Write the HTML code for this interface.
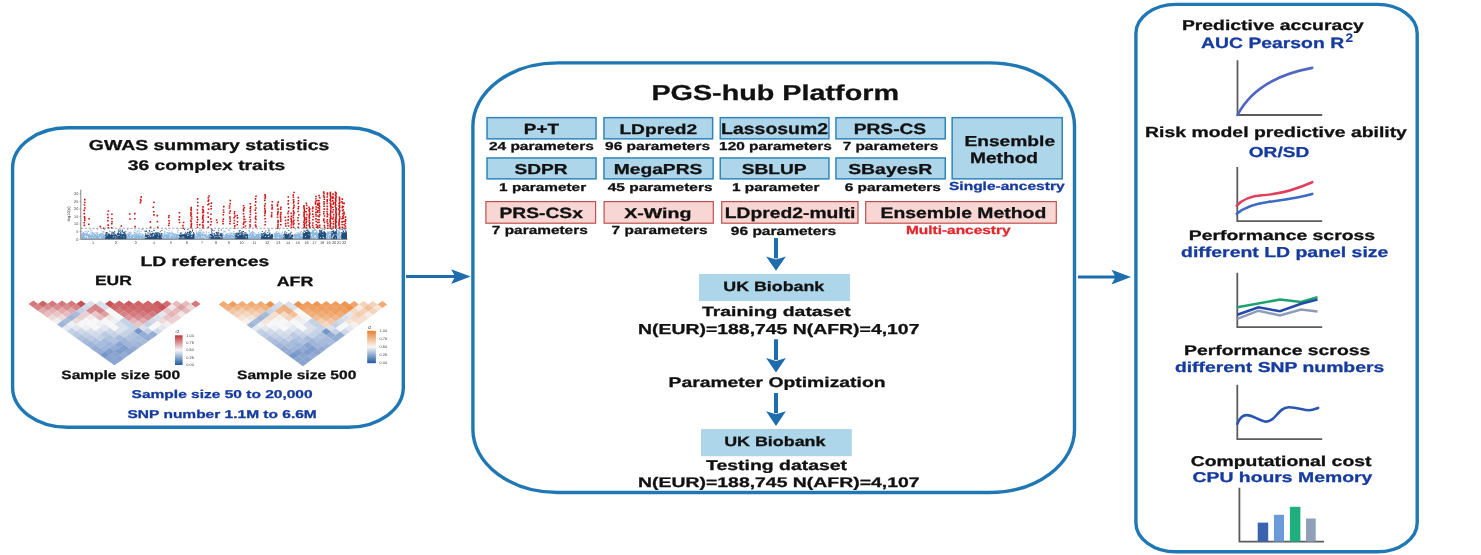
<!DOCTYPE html>
<html><head><meta charset="utf-8"><style>
html,body{margin:0;padding:0;background:#fff;width:1481px;height:555px;overflow:hidden}
svg{display:block;will-change:transform}
text{font-family:"Liberation Sans",sans-serif;text-rendering:geometricPrecision}
</style></head><body>
<svg width="1481" height="555" viewBox="0 0 1481 555">
<rect width="1481" height="555" fill="#fff"/>
<rect x="12.6" y="127.8" width="390.7" height="299.5" rx="55" ry="40" fill="none" stroke="#1f78b4" stroke-width="3.4"/>
<rect x="472.9" y="62.9" width="601.6" height="429.6" rx="85" ry="63" fill="none" stroke="#1f78b4" stroke-width="3.4"/>
<rect x="1135.9" y="4.4" width="281.29999999999995" height="547.4" rx="40" ry="29" fill="none" stroke="#1f78b4" stroke-width="3.4"/>
<line x1="406" y1="276.6" x2="458.6" y2="276.6" stroke="#1d6cad" stroke-width="3"/>
<path d="M470.6,276.6 L451.1,269.3 L455.1,276.6 L451.1,283.90000000000003 Z" fill="#1d6cad"/>
<line x1="1078" y1="277.1" x2="1119" y2="277.1" stroke="#1d6cad" stroke-width="3"/>
<path d="M1131,277.1 L1111.5,269.8 L1115.5,277.1 L1111.5,284.40000000000003 Z" fill="#1d6cad"/>
<rect x="774" y="238" width="4" height="20.399999999999977" fill="#1d6cad"/>
<path d="M776,270.7 L766.1,256.4 L776,259.5 L785.9,256.4 Z" fill="#1d6cad"/>
<rect x="774" y="339.3" width="4" height="20.599999999999966" fill="#1d6cad"/>
<path d="M776,372.6 L766.1,357.9 L776,361.0 L785.9,357.9 Z" fill="#1d6cad"/>
<rect x="774" y="393" width="4" height="20.19999999999999" fill="#1d6cad"/>
<path d="M776,426 L766.1,411.2 L776,414.3 L785.9,411.2 Z" fill="#1d6cad"/>
<rect x="487.05" y="117.65" width="108.99999999999994" height="21.19999999999999" fill="#aed6ea" stroke="#2f86b8" stroke-width="1.5"/>
<rect x="603.95" y="117.65" width="108.69999999999993" height="21.19999999999999" fill="#aed6ea" stroke="#2f86b8" stroke-width="1.5"/>
<rect x="720.25" y="117.65" width="108.70000000000005" height="21.19999999999999" fill="#aed6ea" stroke="#2f86b8" stroke-width="1.5"/>
<rect x="835.95" y="117.65" width="109.29999999999995" height="21.19999999999999" fill="#aed6ea" stroke="#2f86b8" stroke-width="1.5"/>
<rect x="952.15" y="117.65" width="110.10000000000002" height="61.19999999999999" fill="#aed6ea" stroke="#2f86b8" stroke-width="1.5"/>
<rect x="487.05" y="157.95" width="108.99999999999994" height="20.900000000000006" fill="#aed6ea" stroke="#2f86b8" stroke-width="1.5"/>
<rect x="603.95" y="157.95" width="109.19999999999993" height="20.900000000000006" fill="#aed6ea" stroke="#2f86b8" stroke-width="1.5"/>
<rect x="720.25" y="157.95" width="108.70000000000005" height="20.900000000000006" fill="#aed6ea" stroke="#2f86b8" stroke-width="1.5"/>
<rect x="835.95" y="157.95" width="109.29999999999995" height="20.900000000000006" fill="#aed6ea" stroke="#2f86b8" stroke-width="1.5"/>
<rect x="485.90000000000003" y="201.6" width="109.70000000000003" height="21.600000000000012" fill="#f8d6d4" stroke="#c0504d" stroke-width="1.2"/>
<rect x="604.1" y="201.6" width="109.19999999999997" height="21.600000000000012" fill="#f8d6d4" stroke="#c0504d" stroke-width="1.2"/>
<rect x="721.7" y="201.6" width="136.3" height="21.600000000000012" fill="#f8d6d4" stroke="#c0504d" stroke-width="1.2"/>
<rect x="865.7" y="201.6" width="190.60000000000008" height="21.600000000000012" fill="#f8d6d4" stroke="#c0504d" stroke-width="1.2"/>
<rect x="699" y="274" width="151.1" height="27" fill="#aed6ea"/>
<rect x="701" y="429" width="150.8" height="27.2" fill="#aed6ea"/>
<text transform="translate(651.40,99.90) scale(1.3363,1)" font-size="21.52" fill="#111111" stroke="#111111" stroke-width="0.28" font-weight="bold">PGS-hub Platform</text>
<text transform="translate(523.80,134.00) scale(1.2715,1)" font-size="14.83" fill="#111111" stroke="#111111" stroke-width="0.28" font-weight="bold">P+T</text>
<text transform="translate(619.40,134.00) scale(1.3634,1)" font-size="14.07" fill="#111111" stroke="#111111" stroke-width="0.28" font-weight="bold">LDpred2</text>
<text transform="translate(721.10,134.30) scale(1.2454,1)" font-size="15.62" fill="#111111" stroke="#111111" stroke-width="0.28" font-weight="bold">Lassosum2</text>
<text transform="translate(853.70,134.10) scale(1.2757,1)" font-size="15.04" fill="#111111" stroke="#111111" stroke-width="0.28" font-weight="bold">PRS-CS</text>
<text transform="translate(964.40,146.00) scale(1.3272,1)" font-size="14.48" fill="#111111" stroke="#111111" stroke-width="0.28" font-weight="bold">Ensemble</text>
<text transform="translate(970.00,162.80) scale(1.2626,1)" font-size="15.17" fill="#111111" stroke="#111111" stroke-width="0.28" font-weight="bold">Method</text>
<text transform="translate(514.40,173.90) scale(1.3210,1)" font-size="14.47" fill="#111111" stroke="#111111" stroke-width="0.28" font-weight="bold">SDPR</text>
<text transform="translate(613.70,173.90) scale(1.3291,1)" font-size="14.47" fill="#111111" stroke="#111111" stroke-width="0.28" font-weight="bold">MegaPRS</text>
<text transform="translate(741.70,173.90) scale(1.3234,1)" font-size="14.47" fill="#111111" stroke="#111111" stroke-width="0.28" font-weight="bold">SBLUP</text>
<text transform="translate(848.20,173.90) scale(1.3388,1)" font-size="14.47" fill="#111111" stroke="#111111" stroke-width="0.28" font-weight="bold">SBayesR</text>
<text transform="translate(499.40,218.00) scale(1.2928,1)" font-size="14.90" fill="#111111" stroke="#111111" stroke-width="0.28" font-weight="bold">PRS-CSx</text>
<text transform="translate(624.20,218.00) scale(1.3658,1)" font-size="14.34" fill="#111111" stroke="#111111" stroke-width="0.28" font-weight="bold">X-Wing</text>
<text transform="translate(724.70,218.30) scale(1.2729,1)" font-size="15.17" fill="#111111" stroke="#111111" stroke-width="0.28" font-weight="bold">LDpred2-multi</text>
<text transform="translate(880.50,218.30) scale(1.2778,1)" font-size="15.17" fill="#111111" stroke="#111111" stroke-width="0.28" font-weight="bold">Ensemble Method</text>
<text transform="translate(488.90,150.40) scale(1.3341,1)" font-size="11.60" fill="#111111" stroke="#111111" stroke-width="0.28" font-weight="bold">24 parameters</text>
<text transform="translate(605.10,150.40) scale(1.3341,1)" font-size="11.60" fill="#111111" stroke="#111111" stroke-width="0.28" font-weight="bold">96 parameters</text>
<text transform="translate(719.10,150.40) scale(1.3258,1)" font-size="11.60" fill="#111111" stroke="#111111" stroke-width="0.28" font-weight="bold">120 parameters</text>
<text transform="translate(842.70,150.40) scale(1.3042,1)" font-size="11.77" fill="#111111" stroke="#111111" stroke-width="0.28" font-weight="bold">7 parameters</text>
<text transform="translate(499.10,190.60) scale(1.3550,1)" font-size="11.34" fill="#111111" stroke="#111111" stroke-width="0.28" font-weight="bold">1 parameter</text>
<text transform="translate(607.70,190.60) scale(1.3643,1)" font-size="11.34" fill="#111111" stroke="#111111" stroke-width="0.28" font-weight="bold">45 parameters</text>
<text transform="translate(732.00,190.60) scale(1.3612,1)" font-size="11.34" fill="#111111" stroke="#111111" stroke-width="0.28" font-weight="bold">1 parameter</text>
<text transform="translate(844.70,190.60) scale(1.3856,1)" font-size="11.17" fill="#111111" stroke="#111111" stroke-width="0.28" font-weight="bold">6 parameters</text>
<text transform="translate(949.00,190.30) scale(1.3240,1)" font-size="11.72" fill="#163b9e" stroke="#163b9e" stroke-width="0.28" font-weight="bold">Single-ancestry</text>
<text transform="translate(491.80,234.40) scale(1.3097,1)" font-size="11.77" fill="#111111" stroke="#111111" stroke-width="0.28" font-weight="bold">7 parameters</text>
<text transform="translate(611.60,234.40) scale(1.3110,1)" font-size="11.77" fill="#111111" stroke="#111111" stroke-width="0.28" font-weight="bold">7 parameters</text>
<text transform="translate(730.80,234.60) scale(1.3070,1)" font-size="11.89" fill="#111111" stroke="#111111" stroke-width="0.28" font-weight="bold">96 parameters</text>
<text transform="translate(906.00,234.10) scale(1.3161,1)" font-size="11.72" fill="#e3262b" stroke="#e3262b" stroke-width="0.28" font-weight="bold">Multi-ancestry</text>
<text transform="translate(723.30,291.00) scale(1.3180,1)" font-size="13.52" fill="#111111" stroke="#111111" stroke-width="0.28" font-weight="bold">UK Biobank</text>
<text transform="translate(702.00,316.20) scale(1.4492,1)" font-size="13.38" fill="#111111" stroke="#111111" stroke-width="0.28" font-weight="bold">Training dataset</text>
<text transform="translate(638.10,334.20) scale(1.3404,1)" font-size="14.48" fill="#111111" stroke="#111111" stroke-width="0.28" font-weight="bold">N(EUR)=188,745 N(AFR)=4,107</text>
<text transform="translate(668.50,386.90) scale(1.3747,1)" font-size="14.07" fill="#111111" stroke="#111111" stroke-width="0.28" font-weight="bold">Parameter Optimization</text>
<text transform="translate(724.20,445.90) scale(1.3219,1)" font-size="13.52" fill="#111111" stroke="#111111" stroke-width="0.28" font-weight="bold">UK Biobank</text>
<text transform="translate(706.00,470.00) scale(1.3812,1)" font-size="14.07" fill="#111111" stroke="#111111" stroke-width="0.28" font-weight="bold">Testing dataset</text>
<text transform="translate(638.10,486.80) scale(1.3935,1)" font-size="13.93" fill="#111111" stroke="#111111" stroke-width="0.28" font-weight="bold">N(EUR)=188,745 N(AFR)=4,107</text>
<text transform="translate(88.80,150.40) scale(1.3415,1)" font-size="14.48" fill="#111111" stroke="#111111" stroke-width="0.28" font-weight="bold">GWAS summary statistics</text>
<text transform="translate(127.80,170.30) scale(1.3711,1)" font-size="14.07" fill="#111111" stroke="#111111" stroke-width="0.28" font-weight="bold">36 complex traits</text>
<text transform="translate(140.40,265.70) scale(1.3883,1)" font-size="13.93" fill="#111111" stroke="#111111" stroke-width="0.28" font-weight="bold">LD references</text>
<text transform="translate(94.90,285.10) scale(1.3072,1)" font-size="13.37" fill="#111111" stroke="#111111" stroke-width="0.28" font-weight="bold">EUR</text>
<text transform="translate(276.70,286.00) scale(1.3176,1)" font-size="13.52" fill="#111111" stroke="#111111" stroke-width="0.28" font-weight="bold">AFR</text>
<text transform="translate(61.30,379.20) scale(1.2770,1)" font-size="12.14" fill="#111111" stroke="#111111" stroke-width="0.28" font-weight="bold">Sample size 500</text>
<text transform="translate(237.10,379.20) scale(1.2813,1)" font-size="12.14" fill="#111111" stroke="#111111" stroke-width="0.28" font-weight="bold">Sample size 500</text>
<text transform="translate(131.60,397.90) scale(1.3725,1)" font-size="11.31" fill="#163b9e" stroke="#163b9e" stroke-width="0.28" font-weight="bold">Sample size 50 to 20,000</text>
<text transform="translate(127.50,417.50) scale(1.3725,1)" font-size="11.31" fill="#163b9e" stroke="#163b9e" stroke-width="0.28" font-weight="bold">SNP number 1.1M to 6.6M</text>
<text transform="translate(1181.90,29.50) scale(1.3505,1)" font-size="14.34" fill="#111111" stroke="#111111" stroke-width="0.28" font-weight="bold">Predictive accuracy</text>
<text transform="translate(1201.10,47.70) scale(1.2994,1)" font-size="14.90" fill="#163b9e" stroke="#163b9e" stroke-width="0.28" font-weight="bold">AUC Pearson R</text>
<text transform="translate(1345.40,41.90) scale(1.0967,1)" font-size="12.46" fill="#163b9e" stroke="#163b9e" stroke-width="0.1" font-weight="bold">2</text>
<text transform="translate(1145.10,136.80) scale(1.3270,1)" font-size="14.62" fill="#111111" stroke="#111111" stroke-width="0.28" font-weight="bold">Risk model predictive ability</text>
<text transform="translate(1248.80,156.80) scale(1.3169,1)" font-size="14.48" fill="#163b9e" stroke="#163b9e" stroke-width="0.28" font-weight="bold">OR/SD</text>
<text transform="translate(1188.80,239.80) scale(1.4054,1)" font-size="13.79" fill="#111111" stroke="#111111" stroke-width="0.28" font-weight="bold">Performance scross</text>
<text transform="translate(1181.10,256.80) scale(1.3423,1)" font-size="14.48" fill="#163b9e" stroke="#163b9e" stroke-width="0.28" font-weight="bold">different LD panel size</text>
<text transform="translate(1184.00,355.00) scale(1.3915,1)" font-size="13.93" fill="#111111" stroke="#111111" stroke-width="0.28" font-weight="bold">Performance scross</text>
<text transform="translate(1174.90,372.00) scale(1.3508,1)" font-size="14.34" fill="#163b9e" stroke="#163b9e" stroke-width="0.28" font-weight="bold">different SNP numbers</text>
<text transform="translate(1190.70,466.30) scale(1.3634,1)" font-size="14.21" fill="#111111" stroke="#111111" stroke-width="0.28" font-weight="bold">Computational cost</text>
<text transform="translate(1192.60,482.20) scale(1.3632,1)" font-size="14.21" fill="#163b9e" stroke="#163b9e" stroke-width="0.28" font-weight="bold">CPU hours Memory</text>
<path d="M1237.5,60.3 V115 H1322.2" fill="none" stroke="#5c5c5c" stroke-width="1.8"/>
<path d="M1237.5,115 C1248,95 1268,76 1312.2,67.9" fill="none" stroke="#4f66c2" stroke-width="2.6" stroke-linecap="round"/>
<path d="M1237.3,167 V221.1 H1322.2" fill="none" stroke="#5c5c5c" stroke-width="1.8"/>
<path d="M1236.8,205.7 C1244,198 1252,196 1262,195.3 C1275,194.5 1290,192 1312.2,182.2" fill="none" stroke="#e0405e" stroke-width="2.6" stroke-linecap="round"/>
<path d="M1236.8,213.8 C1246,206 1256,203.5 1268,202 C1285,199.5 1298,198 1312.2,193.9" fill="none" stroke="#3b6bc4" stroke-width="2.6" stroke-linecap="round"/>
<path d="M1237.3,272.7 V327.1 H1322.2" fill="none" stroke="#5c5c5c" stroke-width="1.8"/>
<polyline points="1237.3,318.9 1258.4,310.7 1280,315.4 1301.1,309.6 1317.5,311.5" fill="none" stroke="#8c9cb6" stroke-width="2.5"/>
<polyline points="1237.3,307.2 1280,299.6 1301.1,302 1317.5,297.3" fill="none" stroke="#1aa36e" stroke-width="2.5"/>
<polyline points="1237.3,314.8 1258.4,307.2 1280,311.3 1301.1,303.7 1317.5,299.6" fill="none" stroke="#2449a8" stroke-width="2.5"/>
<path d="M1237.3,384.7 V439.1 H1322.2" fill="none" stroke="#5c5c5c" stroke-width="1.8"/>
<path d="M1237.3,423.9 C1239.5,418 1243,415.1 1246.7,415.1 C1253.5,415.1 1260,421.6 1266.6,421.6 C1276,421.6 1278,407.2 1288.8,407.2 C1298,407.2 1303,410.2 1309.3,410.2 C1313,410.2 1316,408.6 1318.1,407.9" fill="none" stroke="#2a55b0" stroke-width="2.6" stroke-linecap="round"/>
<path d="M1239.4,487.8 V541.6 H1324" fill="none" stroke="#5c5c5c" stroke-width="1.8"/>
<rect x="1257.7" y="522.6" width="10.5" height="19.0" fill="#3a62b0"/>
<rect x="1274" y="514.8" width="10" height="26.800000000000068" fill="#6a9bd8"/>
<rect x="1289.9" y="506.8" width="10.5" height="34.80000000000001" fill="#1fae7e"/>
<rect x="1306" y="518.5" width="9.700000000000045" height="23.100000000000023" fill="#8fa0b8"/>
<rect x="80.9" y="234.7" width="24.2" height="4.5" fill="#8db8e0"/>
<rect x="105.1" y="234.7" width="21.6" height="4.5" fill="#1f4d7c"/>
<rect x="126.7" y="234.7" width="18.2" height="4.5" fill="#8db8e0"/>
<rect x="144.9" y="234.7" width="17.6" height="4.5" fill="#1f4d7c"/>
<rect x="162.5" y="234.7" width="16.4" height="4.5" fill="#8db8e0"/>
<rect x="178.9" y="234.7" width="15.8" height="4.5" fill="#1f4d7c"/>
<rect x="194.7" y="234.7" width="14.7" height="4.5" fill="#8db8e0"/>
<rect x="209.4" y="234.7" width="13.4" height="4.5" fill="#1f4d7c"/>
<rect x="222.8" y="234.7" width="12.3" height="4.5" fill="#8db8e0"/>
<rect x="235.1" y="234.7" width="12.9" height="4.5" fill="#1f4d7c"/>
<rect x="248.0" y="234.7" width="12.9" height="4.5" fill="#8db8e0"/>
<rect x="260.9" y="234.7" width="12.3" height="4.5" fill="#1f4d7c"/>
<rect x="273.2" y="234.7" width="10.0" height="4.5" fill="#8db8e0"/>
<rect x="283.2" y="234.7" width="9.9" height="4.5" fill="#1f4d7c"/>
<rect x="293.1" y="234.7" width="9.4" height="4.5" fill="#8db8e0"/>
<rect x="302.5" y="233.5" width="8.2" height="5.7" fill="#1f4d7c"/>
<rect x="310.7" y="233.5" width="7.6" height="5.7" fill="#8db8e0"/>
<rect x="318.3" y="233.5" width="7.7" height="5.7" fill="#1f4d7c"/>
<rect x="326.0" y="233.5" width="5.2" height="5.7" fill="#8db8e0"/>
<rect x="331.2" y="233.5" width="5.9" height="5.7" fill="#1f4d7c"/>
<rect x="337.1" y="233.5" width="4.1" height="5.7" fill="#8db8e0"/>
<rect x="341.2" y="233.5" width="5.8" height="5.7" fill="#1f4d7c"/>
<path d="M91.4 233.3h1.0v1.0h-1.0zM102.3 233.6h1.0v1.0h-1.0zM92.7 233.2h1.0v1.0h-1.0zM85.2 233.5h1.0v1.0h-1.0zM95.5 232.1h1.0v1.0h-1.0zM83.1 234.1h1.0v1.0h-1.0zM83.0 231.9h1.0v1.0h-1.0zM97.0 234.6h1.0v1.0h-1.0zM103.7 229.1h1.0v1.0h-1.0zM96.1 233.1h1.0v1.0h-1.0zM84.6 234.6h1.0v1.0h-1.0zM93.2 234.6h1.0v1.0h-1.0zM85.3 234.2h1.0v1.0h-1.0zM81.6 233.6h1.0v1.0h-1.0zM91.1 231.6h1.0v1.0h-1.0zM92.9 233.0h1.0v1.0h-1.0zM92.5 232.9h1.0v1.0h-1.0zM91.5 234.1h1.0v1.0h-1.0zM104.0 229.5h1.0v1.0h-1.0zM97.3 234.0h1.0v1.0h-1.0zM86.2 234.1h1.0v1.0h-1.0zM82.5 232.3h1.0v1.0h-1.0zM90.2 231.6h1.0v1.0h-1.0zM89.9 229.4h1.0v1.0h-1.0zM100.6 234.7h1.0v1.0h-1.0zM85.8 230.7h1.0v1.0h-1.0zM91.8 232.2h1.0v1.0h-1.0zM82.6 233.0h1.0v1.0h-1.0zM99.0 234.1h1.0v1.0h-1.0zM82.9 234.0h1.0v1.0h-1.0zM103.3 232.3h1.0v1.0h-1.0zM83.6 234.2h1.0v1.0h-1.0zM83.2 234.6h1.0v1.0h-1.0zM99.4 234.3h1.0v1.0h-1.0zM93.9 233.7h1.0v1.0h-1.0zM85.3 232.5h1.0v1.0h-1.0zM83.9 233.0h1.0v1.0h-1.0zM83.6 233.8h1.0v1.0h-1.0zM85.8 234.1h1.0v1.0h-1.0zM103.4 232.0h1.0v1.0h-1.0zM88.0 231.1h1.0v1.0h-1.0zM85.8 233.8h1.0v1.0h-1.0zM100.7 233.0h1.0v1.0h-1.0zM83.2 233.3h1.0v1.0h-1.0zM86.9 232.2h1.0v1.0h-1.0zM88.5 234.1h1.0v1.0h-1.0zM82.6 234.5h1.0v1.0h-1.0zM94.4 234.2h1.0v1.0h-1.0zM94.8 233.9h1.0v1.0h-1.0zM91.4 229.4h1.0v1.0h-1.0zM92.1 233.3h1.0v1.0h-1.0zM101.0 234.3h1.0v1.0h-1.0zM84.5 230.7h1.0v1.0h-1.0zM99.9 234.2h1.0v1.0h-1.0zM85.3 232.4h1.0v1.0h-1.0zM102.7 234.3h1.0v1.0h-1.0zM102.9 231.1h1.0v1.0h-1.0zM94.9 233.8h1.0v1.0h-1.0zM83.3 234.6h1.0v1.0h-1.0zM103.2 234.2h1.0v1.0h-1.0zM97.2 234.2h1.0v1.0h-1.0zM100.0 233.2h1.0v1.0h-1.0zM87.7 234.3h1.0v1.0h-1.0zM97.6 234.6h1.0v1.0h-1.0zM86.2 233.3h1.0v1.0h-1.0zM100.7 233.1h1.0v1.0h-1.0zM87.4 230.5h1.0v1.0h-1.0zM85.6 234.6h1.0v1.0h-1.0zM87.1 233.7h1.0v1.0h-1.0zM82.3 234.3h1.0v1.0h-1.0zM89.5 233.3h1.0v1.0h-1.0zM84.0 233.9h1.0v1.0h-1.0zM101.6 230.6h1.0v1.0h-1.0zM96.9 233.2h1.0v1.0h-1.0zM84.2 234.6h1.0v1.0h-1.0zM81.3 230.7h1.0v1.0h-1.0zM97.2 229.2h1.0v1.0h-1.0zM81.4 233.0h1.0v1.0h-1.0zM92.1 232.5h1.0v1.0h-1.0zM88.3 234.2h1.0v1.0h-1.0zM93.6 232.5h1.0v1.0h-1.0zM101.8 232.5h1.0v1.0h-1.0zM97.2 232.1h1.0v1.0h-1.0zM102.1 233.9h1.0v1.0h-1.0zM139.1 231.6h1.0v1.0h-1.0zM138.6 229.8h1.0v1.0h-1.0zM135.2 229.7h1.0v1.0h-1.0zM128.2 234.3h1.0v1.0h-1.0zM135.8 234.1h1.0v1.0h-1.0zM139.2 233.0h1.0v1.0h-1.0zM135.7 231.6h1.0v1.0h-1.0zM136.3 234.0h1.0v1.0h-1.0zM133.3 231.6h1.0v1.0h-1.0zM142.2 234.3h1.0v1.0h-1.0zM141.3 228.9h1.0v1.0h-1.0zM135.7 233.3h1.0v1.0h-1.0zM130.2 233.4h1.0v1.0h-1.0zM135.4 233.1h1.0v1.0h-1.0zM127.2 228.9h1.0v1.0h-1.0zM135.6 233.8h1.0v1.0h-1.0zM140.5 233.3h1.0v1.0h-1.0zM135.1 232.7h1.0v1.0h-1.0zM127.8 233.4h1.0v1.0h-1.0zM133.8 229.4h1.0v1.0h-1.0zM142.6 234.1h1.0v1.0h-1.0zM134.8 234.4h1.0v1.0h-1.0zM134.2 231.9h1.0v1.0h-1.0zM142.2 233.6h1.0v1.0h-1.0zM132.2 234.3h1.0v1.0h-1.0zM137.3 230.4h1.0v1.0h-1.0zM128.9 232.2h1.0v1.0h-1.0zM127.1 234.3h1.0v1.0h-1.0zM130.6 232.7h1.0v1.0h-1.0zM132.2 233.9h1.0v1.0h-1.0zM137.4 234.5h1.0v1.0h-1.0zM139.3 234.5h1.0v1.0h-1.0zM135.5 234.2h1.0v1.0h-1.0zM130.1 233.4h1.0v1.0h-1.0zM134.2 233.9h1.0v1.0h-1.0zM133.8 233.4h1.0v1.0h-1.0zM129.4 234.3h1.0v1.0h-1.0zM137.6 233.0h1.0v1.0h-1.0zM135.8 231.5h1.0v1.0h-1.0zM137.2 231.4h1.0v1.0h-1.0zM130.7 232.4h1.0v1.0h-1.0zM140.6 230.8h1.0v1.0h-1.0zM132.1 234.0h1.0v1.0h-1.0zM142.6 234.3h1.0v1.0h-1.0zM143.9 231.0h1.0v1.0h-1.0zM129.0 234.2h1.0v1.0h-1.0zM139.2 234.2h1.0v1.0h-1.0zM128.4 231.7h1.0v1.0h-1.0zM134.0 232.1h1.0v1.0h-1.0zM128.9 233.8h1.0v1.0h-1.0zM138.5 234.6h1.0v1.0h-1.0zM130.2 232.8h1.0v1.0h-1.0zM142.4 228.9h1.0v1.0h-1.0zM128.7 233.5h1.0v1.0h-1.0zM139.7 233.5h1.0v1.0h-1.0zM138.5 234.3h1.0v1.0h-1.0zM127.9 234.5h1.0v1.0h-1.0zM127.3 233.3h1.0v1.0h-1.0zM135.6 233.3h1.0v1.0h-1.0zM129.2 234.3h1.0v1.0h-1.0zM130.2 231.6h1.0v1.0h-1.0zM143.7 230.3h1.0v1.0h-1.0zM128.3 234.6h1.0v1.0h-1.0zM177.6 231.9h1.0v1.0h-1.0zM171.8 234.5h1.0v1.0h-1.0zM172.1 233.7h1.0v1.0h-1.0zM165.6 234.6h1.0v1.0h-1.0zM170.6 234.4h1.0v1.0h-1.0zM169.3 232.8h1.0v1.0h-1.0zM169.5 234.2h1.0v1.0h-1.0zM171.5 233.8h1.0v1.0h-1.0zM174.5 233.4h1.0v1.0h-1.0zM177.9 229.6h1.0v1.0h-1.0zM173.8 234.2h1.0v1.0h-1.0zM164.3 231.0h1.0v1.0h-1.0zM174.6 233.0h1.0v1.0h-1.0zM168.0 234.1h1.0v1.0h-1.0zM173.0 233.3h1.0v1.0h-1.0zM171.6 233.0h1.0v1.0h-1.0zM174.1 234.3h1.0v1.0h-1.0zM166.3 229.0h1.0v1.0h-1.0zM176.0 234.6h1.0v1.0h-1.0zM163.4 234.1h1.0v1.0h-1.0zM169.0 233.0h1.0v1.0h-1.0zM164.1 233.4h1.0v1.0h-1.0zM163.6 234.5h1.0v1.0h-1.0zM172.9 233.3h1.0v1.0h-1.0zM172.2 233.9h1.0v1.0h-1.0zM169.9 234.3h1.0v1.0h-1.0zM167.8 232.4h1.0v1.0h-1.0zM175.4 234.5h1.0v1.0h-1.0zM164.3 231.9h1.0v1.0h-1.0zM172.1 232.2h1.0v1.0h-1.0zM165.8 233.8h1.0v1.0h-1.0zM166.5 231.9h1.0v1.0h-1.0zM168.2 232.9h1.0v1.0h-1.0zM177.7 234.0h1.0v1.0h-1.0zM170.9 232.4h1.0v1.0h-1.0zM176.7 233.7h1.0v1.0h-1.0zM168.2 234.5h1.0v1.0h-1.0zM176.0 234.5h1.0v1.0h-1.0zM163.8 233.3h1.0v1.0h-1.0zM170.0 232.7h1.0v1.0h-1.0zM167.1 232.2h1.0v1.0h-1.0zM163.7 234.3h1.0v1.0h-1.0zM172.7 234.5h1.0v1.0h-1.0zM167.2 232.5h1.0v1.0h-1.0zM173.2 234.1h1.0v1.0h-1.0zM164.7 233.9h1.0v1.0h-1.0zM173.7 233.9h1.0v1.0h-1.0zM164.3 232.6h1.0v1.0h-1.0zM171.3 230.5h1.0v1.0h-1.0zM177.0 230.6h1.0v1.0h-1.0zM169.2 232.0h1.0v1.0h-1.0zM167.2 234.0h1.0v1.0h-1.0zM168.7 230.1h1.0v1.0h-1.0zM176.3 234.2h1.0v1.0h-1.0zM168.1 233.9h1.0v1.0h-1.0zM168.1 233.8h1.0v1.0h-1.0zM168.5 234.3h1.0v1.0h-1.0zM201.2 233.9h1.0v1.0h-1.0zM205.6 232.6h1.0v1.0h-1.0zM203.0 234.4h1.0v1.0h-1.0zM196.8 234.0h1.0v1.0h-1.0zM198.3 231.3h1.0v1.0h-1.0zM201.8 233.0h1.0v1.0h-1.0zM208.3 234.2h1.0v1.0h-1.0zM202.0 234.4h1.0v1.0h-1.0zM205.3 234.7h1.0v1.0h-1.0zM206.0 231.6h1.0v1.0h-1.0zM206.0 234.5h1.0v1.0h-1.0zM198.4 232.6h1.0v1.0h-1.0zM196.0 233.6h1.0v1.0h-1.0zM201.1 229.5h1.0v1.0h-1.0zM202.7 231.4h1.0v1.0h-1.0zM198.9 232.1h1.0v1.0h-1.0zM200.4 230.5h1.0v1.0h-1.0zM195.9 231.8h1.0v1.0h-1.0zM197.6 233.4h1.0v1.0h-1.0zM201.9 234.4h1.0v1.0h-1.0zM206.1 234.1h1.0v1.0h-1.0zM199.0 234.5h1.0v1.0h-1.0zM198.9 233.6h1.0v1.0h-1.0zM204.5 233.9h1.0v1.0h-1.0zM204.1 234.5h1.0v1.0h-1.0zM200.1 233.6h1.0v1.0h-1.0zM207.9 231.7h1.0v1.0h-1.0zM203.7 234.6h1.0v1.0h-1.0zM199.9 232.6h1.0v1.0h-1.0zM198.0 233.3h1.0v1.0h-1.0zM201.0 234.7h1.0v1.0h-1.0zM208.3 232.0h1.0v1.0h-1.0zM197.5 233.1h1.0v1.0h-1.0zM198.7 233.9h1.0v1.0h-1.0zM202.1 234.1h1.0v1.0h-1.0zM199.3 233.8h1.0v1.0h-1.0zM203.8 234.2h1.0v1.0h-1.0zM197.4 232.5h1.0v1.0h-1.0zM199.2 229.9h1.0v1.0h-1.0zM202.4 232.5h1.0v1.0h-1.0zM199.2 231.8h1.0v1.0h-1.0zM196.0 234.4h1.0v1.0h-1.0zM196.0 232.8h1.0v1.0h-1.0zM204.4 234.3h1.0v1.0h-1.0zM200.2 231.7h1.0v1.0h-1.0zM202.8 234.5h1.0v1.0h-1.0zM197.8 234.4h1.0v1.0h-1.0zM196.4 233.8h1.0v1.0h-1.0zM195.7 230.5h1.0v1.0h-1.0zM200.6 233.5h1.0v1.0h-1.0zM203.6 232.3h1.0v1.0h-1.0zM228.1 233.8h1.0v1.0h-1.0zM229.8 232.7h1.0v1.0h-1.0zM231.4 232.4h1.0v1.0h-1.0zM228.3 229.5h1.0v1.0h-1.0zM232.5 233.8h1.0v1.0h-1.0zM227.7 233.3h1.0v1.0h-1.0zM233.0 233.4h1.0v1.0h-1.0zM228.7 233.7h1.0v1.0h-1.0zM233.0 234.0h1.0v1.0h-1.0zM223.4 232.5h1.0v1.0h-1.0zM233.0 232.5h1.0v1.0h-1.0zM229.6 232.4h1.0v1.0h-1.0zM226.2 233.2h1.0v1.0h-1.0zM223.6 234.4h1.0v1.0h-1.0zM227.9 233.5h1.0v1.0h-1.0zM227.3 234.6h1.0v1.0h-1.0zM230.7 233.4h1.0v1.0h-1.0zM225.5 234.1h1.0v1.0h-1.0zM227.3 234.2h1.0v1.0h-1.0zM223.6 230.6h1.0v1.0h-1.0zM233.7 232.8h1.0v1.0h-1.0zM232.6 233.8h1.0v1.0h-1.0zM231.9 234.3h1.0v1.0h-1.0zM231.2 233.3h1.0v1.0h-1.0zM233.0 234.5h1.0v1.0h-1.0zM231.8 234.5h1.0v1.0h-1.0zM228.9 229.7h1.0v1.0h-1.0zM222.8 234.2h1.0v1.0h-1.0zM226.2 234.0h1.0v1.0h-1.0zM223.5 230.9h1.0v1.0h-1.0zM232.0 233.8h1.0v1.0h-1.0zM226.8 233.2h1.0v1.0h-1.0zM223.3 234.6h1.0v1.0h-1.0zM233.0 234.1h1.0v1.0h-1.0zM228.4 230.2h1.0v1.0h-1.0zM233.8 233.6h1.0v1.0h-1.0zM225.1 234.1h1.0v1.0h-1.0zM233.2 230.9h1.0v1.0h-1.0zM225.0 231.6h1.0v1.0h-1.0zM226.8 233.6h1.0v1.0h-1.0zM224.7 231.2h1.0v1.0h-1.0zM234.0 234.3h1.0v1.0h-1.0zM229.9 234.3h1.0v1.0h-1.0zM253.2 233.7h1.0v1.0h-1.0zM251.1 232.0h1.0v1.0h-1.0zM248.9 230.7h1.0v1.0h-1.0zM254.8 233.4h1.0v1.0h-1.0zM257.4 234.2h1.0v1.0h-1.0zM249.7 234.1h1.0v1.0h-1.0zM248.5 234.0h1.0v1.0h-1.0zM255.4 233.4h1.0v1.0h-1.0zM251.2 233.2h1.0v1.0h-1.0zM249.1 231.8h1.0v1.0h-1.0zM250.0 234.2h1.0v1.0h-1.0zM249.9 232.7h1.0v1.0h-1.0zM257.9 232.1h1.0v1.0h-1.0zM248.7 233.8h1.0v1.0h-1.0zM252.3 234.3h1.0v1.0h-1.0zM259.5 234.6h1.0v1.0h-1.0zM253.8 232.3h1.0v1.0h-1.0zM259.7 234.4h1.0v1.0h-1.0zM253.4 232.4h1.0v1.0h-1.0zM248.5 234.2h1.0v1.0h-1.0zM258.6 234.4h1.0v1.0h-1.0zM252.7 234.1h1.0v1.0h-1.0zM253.1 234.5h1.0v1.0h-1.0zM248.4 229.9h1.0v1.0h-1.0zM256.7 234.2h1.0v1.0h-1.0zM251.0 233.3h1.0v1.0h-1.0zM250.9 233.6h1.0v1.0h-1.0zM259.1 233.9h1.0v1.0h-1.0zM252.0 230.9h1.0v1.0h-1.0zM248.5 233.8h1.0v1.0h-1.0zM255.7 234.6h1.0v1.0h-1.0zM252.1 232.7h1.0v1.0h-1.0zM258.3 233.2h1.0v1.0h-1.0zM258.5 233.6h1.0v1.0h-1.0zM252.7 231.6h1.0v1.0h-1.0zM252.5 232.1h1.0v1.0h-1.0zM250.6 234.0h1.0v1.0h-1.0zM250.2 233.3h1.0v1.0h-1.0zM250.0 234.3h1.0v1.0h-1.0zM250.6 233.6h1.0v1.0h-1.0zM251.7 233.7h1.0v1.0h-1.0zM259.8 232.8h1.0v1.0h-1.0zM258.3 234.3h1.0v1.0h-1.0zM252.6 234.5h1.0v1.0h-1.0zM256.2 233.9h1.0v1.0h-1.0zM279.5 234.6h1.0v1.0h-1.0zM276.7 233.9h1.0v1.0h-1.0zM273.8 233.8h1.0v1.0h-1.0zM273.7 233.5h1.0v1.0h-1.0zM278.5 233.6h1.0v1.0h-1.0zM276.1 234.2h1.0v1.0h-1.0zM273.4 234.0h1.0v1.0h-1.0zM281.2 233.3h1.0v1.0h-1.0zM275.6 232.8h1.0v1.0h-1.0zM274.9 233.6h1.0v1.0h-1.0zM278.7 229.5h1.0v1.0h-1.0zM276.5 233.2h1.0v1.0h-1.0zM281.7 232.2h1.0v1.0h-1.0zM278.8 233.1h1.0v1.0h-1.0zM276.9 233.8h1.0v1.0h-1.0zM275.7 231.7h1.0v1.0h-1.0zM281.1 233.9h1.0v1.0h-1.0zM281.4 234.6h1.0v1.0h-1.0zM274.4 233.5h1.0v1.0h-1.0zM276.0 233.9h1.0v1.0h-1.0zM282.0 234.4h1.0v1.0h-1.0zM274.9 234.2h1.0v1.0h-1.0zM279.3 234.2h1.0v1.0h-1.0zM273.2 233.4h1.0v1.0h-1.0zM276.7 234.2h1.0v1.0h-1.0zM277.6 232.9h1.0v1.0h-1.0zM278.1 233.0h1.0v1.0h-1.0zM278.2 231.7h1.0v1.0h-1.0zM281.9 234.0h1.0v1.0h-1.0zM276.3 231.1h1.0v1.0h-1.0zM276.0 232.6h1.0v1.0h-1.0zM279.5 232.7h1.0v1.0h-1.0zM281.9 231.8h1.0v1.0h-1.0zM274.6 233.1h1.0v1.0h-1.0zM277.6 233.3h1.0v1.0h-1.0zM299.8 231.6h1.0v1.0h-1.0zM295.5 233.8h1.0v1.0h-1.0zM298.3 232.3h1.0v1.0h-1.0zM301.3 233.9h1.0v1.0h-1.0zM298.9 233.4h1.0v1.0h-1.0zM299.8 234.4h1.0v1.0h-1.0zM294.6 234.5h1.0v1.0h-1.0zM300.9 234.2h1.0v1.0h-1.0zM297.2 234.5h1.0v1.0h-1.0zM295.8 234.6h1.0v1.0h-1.0zM297.9 234.4h1.0v1.0h-1.0zM298.4 234.1h1.0v1.0h-1.0zM295.0 233.6h1.0v1.0h-1.0zM296.2 234.2h1.0v1.0h-1.0zM293.5 234.6h1.0v1.0h-1.0zM300.6 234.1h1.0v1.0h-1.0zM293.8 234.3h1.0v1.0h-1.0zM297.2 233.4h1.0v1.0h-1.0zM300.4 233.6h1.0v1.0h-1.0zM296.6 231.9h1.0v1.0h-1.0zM296.4 234.6h1.0v1.0h-1.0zM297.7 232.9h1.0v1.0h-1.0zM298.3 234.1h1.0v1.0h-1.0zM301.0 231.3h1.0v1.0h-1.0zM301.5 233.7h1.0v1.0h-1.0zM300.1 232.5h1.0v1.0h-1.0zM294.6 234.6h1.0v1.0h-1.0zM294.5 234.5h1.0v1.0h-1.0zM293.7 233.9h1.0v1.0h-1.0zM299.4 234.1h1.0v1.0h-1.0zM297.4 234.7h1.0v1.0h-1.0zM294.9 229.4h1.0v1.0h-1.0zM315.0 228.9h1.0v1.0h-1.0zM316.2 230.8h1.0v1.0h-1.0zM314.1 233.1h1.0v1.0h-1.0zM316.4 231.4h1.0v1.0h-1.0zM312.4 230.7h1.0v1.0h-1.0zM313.7 232.2h1.0v1.0h-1.0zM316.4 233.1h1.0v1.0h-1.0zM312.5 231.7h1.0v1.0h-1.0zM311.2 232.1h1.0v1.0h-1.0zM315.9 232.3h1.0v1.0h-1.0zM312.3 230.8h1.0v1.0h-1.0zM316.3 231.0h1.0v1.0h-1.0zM314.3 229.5h1.0v1.0h-1.0zM316.0 233.2h1.0v1.0h-1.0zM313.1 233.3h1.0v1.0h-1.0zM310.9 232.8h1.0v1.0h-1.0zM316.4 230.5h1.0v1.0h-1.0zM311.5 233.1h1.0v1.0h-1.0zM313.3 230.3h1.0v1.0h-1.0zM314.8 229.6h1.0v1.0h-1.0zM311.2 232.4h1.0v1.0h-1.0zM314.9 230.0h1.0v1.0h-1.0zM315.5 233.1h1.0v1.0h-1.0zM315.1 232.5h1.0v1.0h-1.0zM310.8 232.8h1.0v1.0h-1.0zM312.8 231.8h1.0v1.0h-1.0zM312.5 231.9h1.0v1.0h-1.0zM315.3 233.1h1.0v1.0h-1.0zM311.5 231.5h1.0v1.0h-1.0zM313.8 233.2h1.0v1.0h-1.0zM311.5 228.8h1.0v1.0h-1.0zM314.7 232.7h1.0v1.0h-1.0zM312.0 230.0h1.0v1.0h-1.0zM315.6 232.7h1.0v1.0h-1.0zM312.7 232.6h1.0v1.0h-1.0zM311.7 231.8h1.0v1.0h-1.0zM313.5 230.6h1.0v1.0h-1.0zM313.4 232.4h1.0v1.0h-1.0zM314.0 228.7h1.0v1.0h-1.0zM313.0 231.4h1.0v1.0h-1.0zM312.3 232.0h1.0v1.0h-1.0zM312.6 230.0h1.0v1.0h-1.0zM312.6 230.3h1.0v1.0h-1.0zM315.2 232.5h1.0v1.0h-1.0zM316.9 232.6h1.0v1.0h-1.0zM315.6 231.9h1.0v1.0h-1.0zM313.7 233.4h1.0v1.0h-1.0zM313.5 232.9h1.0v1.0h-1.0zM329.4 231.3h1.0v1.0h-1.0zM329.0 233.2h1.0v1.0h-1.0zM328.2 233.4h1.0v1.0h-1.0zM326.5 232.9h1.0v1.0h-1.0zM330.1 231.8h1.0v1.0h-1.0zM329.6 233.4h1.0v1.0h-1.0zM327.7 233.3h1.0v1.0h-1.0zM327.1 233.3h1.0v1.0h-1.0zM329.9 232.8h1.0v1.0h-1.0zM328.1 231.7h1.0v1.0h-1.0zM329.7 228.6h1.0v1.0h-1.0zM328.4 232.3h1.0v1.0h-1.0zM329.8 232.6h1.0v1.0h-1.0zM327.3 231.2h1.0v1.0h-1.0zM327.1 232.7h1.0v1.0h-1.0zM327.8 232.4h1.0v1.0h-1.0zM327.5 232.5h1.0v1.0h-1.0zM327.9 233.4h1.0v1.0h-1.0zM329.5 233.4h1.0v1.0h-1.0zM328.2 232.1h1.0v1.0h-1.0zM327.7 233.0h1.0v1.0h-1.0zM326.4 232.7h1.0v1.0h-1.0zM327.3 232.4h1.0v1.0h-1.0zM327.0 231.2h1.0v1.0h-1.0zM328.0 233.4h1.0v1.0h-1.0zM327.7 233.4h1.0v1.0h-1.0zM328.5 231.6h1.0v1.0h-1.0zM328.5 232.7h1.0v1.0h-1.0zM327.3 231.9h1.0v1.0h-1.0zM328.5 232.8h1.0v1.0h-1.0zM328.1 232.3h1.0v1.0h-1.0zM329.2 233.4h1.0v1.0h-1.0zM326.4 233.0h1.0v1.0h-1.0zM338.2 233.2h1.0v1.0h-1.0zM338.2 232.0h1.0v1.0h-1.0zM338.7 232.6h1.0v1.0h-1.0zM338.9 230.4h1.0v1.0h-1.0zM338.2 232.0h1.0v1.0h-1.0zM338.6 231.8h1.0v1.0h-1.0zM339.3 233.0h1.0v1.0h-1.0zM337.9 231.3h1.0v1.0h-1.0zM338.9 233.0h1.0v1.0h-1.0zM337.3 230.6h1.0v1.0h-1.0zM338.3 231.4h1.0v1.0h-1.0zM338.4 231.9h1.0v1.0h-1.0zM338.8 228.9h1.0v1.0h-1.0zM338.5 232.4h1.0v1.0h-1.0zM337.8 231.1h1.0v1.0h-1.0zM337.4 232.9h1.0v1.0h-1.0zM339.7 233.4h1.0v1.0h-1.0zM339.3 232.1h1.0v1.0h-1.0zM338.8 232.8h1.0v1.0h-1.0zM337.6 229.7h1.0v1.0h-1.0zM339.6 233.3h1.0v1.0h-1.0zM339.5 233.1h1.0v1.0h-1.0zM337.7 232.2h1.0v1.0h-1.0zM339.0 233.2h1.0v1.0h-1.0zM339.5 232.0h1.0v1.0h-1.0zM339.9 229.2h1.0v1.0h-1.0z" fill="#8db8e0"/>
<path d="M119.2 230.8h1.0v1.0h-1.0zM123.0 233.8h1.0v1.0h-1.0zM121.4 231.4h1.0v1.0h-1.0zM116.9 233.0h1.0v1.0h-1.0zM113.0 233.2h1.0v1.0h-1.0zM117.6 234.5h1.0v1.0h-1.0zM118.3 229.2h1.0v1.0h-1.0zM120.1 233.9h1.0v1.0h-1.0zM120.2 233.2h1.0v1.0h-1.0zM114.2 231.6h1.0v1.0h-1.0zM106.8 232.4h1.0v1.0h-1.0zM105.7 233.1h1.0v1.0h-1.0zM115.0 234.2h1.0v1.0h-1.0zM119.5 233.5h1.0v1.0h-1.0zM117.8 230.5h1.0v1.0h-1.0zM110.4 234.7h1.0v1.0h-1.0zM111.3 232.8h1.0v1.0h-1.0zM109.3 234.4h1.0v1.0h-1.0zM123.8 232.9h1.0v1.0h-1.0zM114.2 231.0h1.0v1.0h-1.0zM111.8 232.8h1.0v1.0h-1.0zM109.2 233.7h1.0v1.0h-1.0zM121.7 230.6h1.0v1.0h-1.0zM123.2 233.9h1.0v1.0h-1.0zM117.1 234.0h1.0v1.0h-1.0zM107.9 233.5h1.0v1.0h-1.0zM122.3 231.5h1.0v1.0h-1.0zM119.8 229.7h1.0v1.0h-1.0zM110.8 234.4h1.0v1.0h-1.0zM114.4 234.1h1.0v1.0h-1.0zM109.5 233.8h1.0v1.0h-1.0zM118.0 233.5h1.0v1.0h-1.0zM111.6 231.6h1.0v1.0h-1.0zM125.3 233.7h1.0v1.0h-1.0zM106.6 234.6h1.0v1.0h-1.0zM123.1 234.6h1.0v1.0h-1.0zM119.7 233.3h1.0v1.0h-1.0zM111.5 232.1h1.0v1.0h-1.0zM105.5 234.4h1.0v1.0h-1.0zM114.5 234.6h1.0v1.0h-1.0zM122.2 234.2h1.0v1.0h-1.0zM108.0 234.6h1.0v1.0h-1.0zM118.1 233.7h1.0v1.0h-1.0zM118.1 232.9h1.0v1.0h-1.0zM121.7 229.4h1.0v1.0h-1.0zM119.2 234.3h1.0v1.0h-1.0zM114.9 234.3h1.0v1.0h-1.0zM105.3 233.6h1.0v1.0h-1.0zM119.8 234.3h1.0v1.0h-1.0zM110.7 234.0h1.0v1.0h-1.0zM119.5 233.4h1.0v1.0h-1.0zM117.8 232.3h1.0v1.0h-1.0zM113.2 232.1h1.0v1.0h-1.0zM123.8 234.5h1.0v1.0h-1.0zM124.3 232.5h1.0v1.0h-1.0zM107.8 233.7h1.0v1.0h-1.0zM118.0 230.7h1.0v1.0h-1.0zM112.9 233.3h1.0v1.0h-1.0zM123.2 232.0h1.0v1.0h-1.0zM124.6 233.6h1.0v1.0h-1.0zM118.5 234.3h1.0v1.0h-1.0zM120.0 231.8h1.0v1.0h-1.0zM118.3 232.6h1.0v1.0h-1.0zM109.5 230.8h1.0v1.0h-1.0zM125.3 231.3h1.0v1.0h-1.0zM121.4 234.0h1.0v1.0h-1.0zM123.8 231.5h1.0v1.0h-1.0zM112.3 234.5h1.0v1.0h-1.0zM114.2 233.3h1.0v1.0h-1.0zM120.9 233.6h1.0v1.0h-1.0zM105.7 231.9h1.0v1.0h-1.0zM106.4 232.0h1.0v1.0h-1.0zM108.7 234.0h1.0v1.0h-1.0zM121.3 234.4h1.0v1.0h-1.0zM108.2 233.5h1.0v1.0h-1.0zM160.7 233.6h1.0v1.0h-1.0zM157.6 234.0h1.0v1.0h-1.0zM152.7 233.5h1.0v1.0h-1.0zM152.0 233.1h1.0v1.0h-1.0zM145.1 232.7h1.0v1.0h-1.0zM158.9 234.3h1.0v1.0h-1.0zM152.4 232.4h1.0v1.0h-1.0zM151.6 234.3h1.0v1.0h-1.0zM147.6 233.5h1.0v1.0h-1.0zM145.2 231.0h1.0v1.0h-1.0zM158.2 232.6h1.0v1.0h-1.0zM159.2 233.0h1.0v1.0h-1.0zM151.6 233.1h1.0v1.0h-1.0zM153.3 229.7h1.0v1.0h-1.0zM149.2 230.6h1.0v1.0h-1.0zM157.3 232.2h1.0v1.0h-1.0zM158.4 233.8h1.0v1.0h-1.0zM159.8 231.2h1.0v1.0h-1.0zM156.4 232.2h1.0v1.0h-1.0zM157.6 233.8h1.0v1.0h-1.0zM156.9 234.5h1.0v1.0h-1.0zM150.6 233.6h1.0v1.0h-1.0zM145.1 233.9h1.0v1.0h-1.0zM155.5 233.0h1.0v1.0h-1.0zM148.8 229.9h1.0v1.0h-1.0zM156.0 234.0h1.0v1.0h-1.0zM155.9 233.3h1.0v1.0h-1.0zM153.7 233.9h1.0v1.0h-1.0zM161.5 233.0h1.0v1.0h-1.0zM156.5 232.3h1.0v1.0h-1.0zM161.2 234.6h1.0v1.0h-1.0zM155.1 232.4h1.0v1.0h-1.0zM149.2 233.8h1.0v1.0h-1.0zM145.7 234.3h1.0v1.0h-1.0zM151.1 234.5h1.0v1.0h-1.0zM149.1 230.7h1.0v1.0h-1.0zM154.0 233.5h1.0v1.0h-1.0zM161.0 233.3h1.0v1.0h-1.0zM161.4 233.0h1.0v1.0h-1.0zM158.3 234.5h1.0v1.0h-1.0zM154.8 232.3h1.0v1.0h-1.0zM145.6 230.2h1.0v1.0h-1.0zM147.6 233.6h1.0v1.0h-1.0zM147.7 233.5h1.0v1.0h-1.0zM155.0 234.6h1.0v1.0h-1.0zM160.6 233.8h1.0v1.0h-1.0zM153.6 233.2h1.0v1.0h-1.0zM151.0 234.1h1.0v1.0h-1.0zM155.8 233.3h1.0v1.0h-1.0zM149.6 232.6h1.0v1.0h-1.0zM149.8 234.6h1.0v1.0h-1.0zM149.0 234.6h1.0v1.0h-1.0zM147.5 232.3h1.0v1.0h-1.0zM151.4 230.9h1.0v1.0h-1.0zM157.3 234.6h1.0v1.0h-1.0zM161.3 229.9h1.0v1.0h-1.0zM146.1 230.8h1.0v1.0h-1.0zM152.0 233.6h1.0v1.0h-1.0zM161.1 234.2h1.0v1.0h-1.0zM153.6 230.1h1.0v1.0h-1.0zM156.9 233.6h1.0v1.0h-1.0zM187.2 232.0h1.0v1.0h-1.0zM186.9 231.7h1.0v1.0h-1.0zM187.2 234.3h1.0v1.0h-1.0zM190.1 231.1h1.0v1.0h-1.0zM183.1 234.6h1.0v1.0h-1.0zM186.5 233.4h1.0v1.0h-1.0zM187.3 229.0h1.0v1.0h-1.0zM188.5 232.0h1.0v1.0h-1.0zM179.8 233.4h1.0v1.0h-1.0zM190.6 234.5h1.0v1.0h-1.0zM180.1 232.5h1.0v1.0h-1.0zM192.2 234.5h1.0v1.0h-1.0zM188.3 234.4h1.0v1.0h-1.0zM189.9 232.9h1.0v1.0h-1.0zM182.5 234.3h1.0v1.0h-1.0zM190.2 233.4h1.0v1.0h-1.0zM190.2 233.8h1.0v1.0h-1.0zM183.9 228.9h1.0v1.0h-1.0zM188.9 233.5h1.0v1.0h-1.0zM186.9 232.6h1.0v1.0h-1.0zM189.4 230.6h1.0v1.0h-1.0zM185.0 231.8h1.0v1.0h-1.0zM188.8 231.5h1.0v1.0h-1.0zM190.8 231.7h1.0v1.0h-1.0zM192.1 229.4h1.0v1.0h-1.0zM188.4 233.4h1.0v1.0h-1.0zM189.4 232.0h1.0v1.0h-1.0zM185.1 233.8h1.0v1.0h-1.0zM181.1 232.4h1.0v1.0h-1.0zM193.6 233.9h1.0v1.0h-1.0zM181.4 234.3h1.0v1.0h-1.0zM185.2 234.1h1.0v1.0h-1.0zM193.3 234.6h1.0v1.0h-1.0zM183.5 234.5h1.0v1.0h-1.0zM188.5 232.2h1.0v1.0h-1.0zM181.6 234.6h1.0v1.0h-1.0zM185.7 233.2h1.0v1.0h-1.0zM192.4 234.6h1.0v1.0h-1.0zM180.5 234.3h1.0v1.0h-1.0zM182.1 234.2h1.0v1.0h-1.0zM189.5 233.2h1.0v1.0h-1.0zM182.2 234.3h1.0v1.0h-1.0zM183.1 234.4h1.0v1.0h-1.0zM190.1 234.0h1.0v1.0h-1.0zM187.0 231.8h1.0v1.0h-1.0zM186.0 234.2h1.0v1.0h-1.0zM192.0 230.6h1.0v1.0h-1.0zM184.0 233.4h1.0v1.0h-1.0zM193.1 233.6h1.0v1.0h-1.0zM182.2 234.6h1.0v1.0h-1.0zM192.9 232.0h1.0v1.0h-1.0zM184.6 233.4h1.0v1.0h-1.0zM186.5 234.1h1.0v1.0h-1.0zM193.6 232.9h1.0v1.0h-1.0zM182.4 234.7h1.0v1.0h-1.0zM219.6 233.9h1.0v1.0h-1.0zM213.5 233.8h1.0v1.0h-1.0zM209.6 233.8h1.0v1.0h-1.0zM218.1 229.8h1.0v1.0h-1.0zM217.6 233.1h1.0v1.0h-1.0zM209.6 234.0h1.0v1.0h-1.0zM213.6 232.9h1.0v1.0h-1.0zM210.7 233.9h1.0v1.0h-1.0zM215.7 232.1h1.0v1.0h-1.0zM219.6 233.1h1.0v1.0h-1.0zM211.4 232.3h1.0v1.0h-1.0zM220.6 233.4h1.0v1.0h-1.0zM213.8 233.5h1.0v1.0h-1.0zM211.2 232.6h1.0v1.0h-1.0zM221.6 233.5h1.0v1.0h-1.0zM218.3 231.7h1.0v1.0h-1.0zM211.8 229.9h1.0v1.0h-1.0zM217.2 234.3h1.0v1.0h-1.0zM210.4 234.2h1.0v1.0h-1.0zM216.5 232.7h1.0v1.0h-1.0zM213.5 230.3h1.0v1.0h-1.0zM213.9 233.6h1.0v1.0h-1.0zM210.9 228.6h1.0v1.0h-1.0zM211.1 230.8h1.0v1.0h-1.0zM216.1 233.3h1.0v1.0h-1.0zM216.3 234.2h1.0v1.0h-1.0zM220.7 229.6h1.0v1.0h-1.0zM216.9 234.5h1.0v1.0h-1.0zM219.6 234.1h1.0v1.0h-1.0zM220.5 234.2h1.0v1.0h-1.0zM216.5 231.7h1.0v1.0h-1.0zM211.7 233.4h1.0v1.0h-1.0zM210.3 234.6h1.0v1.0h-1.0zM211.6 228.9h1.0v1.0h-1.0zM217.6 234.1h1.0v1.0h-1.0zM217.7 232.4h1.0v1.0h-1.0zM214.1 233.2h1.0v1.0h-1.0zM219.4 234.6h1.0v1.0h-1.0zM211.9 233.6h1.0v1.0h-1.0zM211.2 233.9h1.0v1.0h-1.0zM216.5 234.4h1.0v1.0h-1.0zM215.8 234.2h1.0v1.0h-1.0zM216.4 234.0h1.0v1.0h-1.0zM217.4 234.6h1.0v1.0h-1.0zM217.7 234.4h1.0v1.0h-1.0zM221.3 233.1h1.0v1.0h-1.0zM245.6 234.6h1.0v1.0h-1.0zM236.4 232.5h1.0v1.0h-1.0zM238.8 230.8h1.0v1.0h-1.0zM245.4 232.6h1.0v1.0h-1.0zM236.7 232.7h1.0v1.0h-1.0zM246.3 233.7h1.0v1.0h-1.0zM236.0 234.3h1.0v1.0h-1.0zM238.8 232.6h1.0v1.0h-1.0zM237.4 234.3h1.0v1.0h-1.0zM237.9 232.9h1.0v1.0h-1.0zM244.5 233.9h1.0v1.0h-1.0zM243.0 231.1h1.0v1.0h-1.0zM242.1 234.2h1.0v1.0h-1.0zM238.7 230.3h1.0v1.0h-1.0zM243.0 234.1h1.0v1.0h-1.0zM242.7 234.5h1.0v1.0h-1.0zM246.8 233.7h1.0v1.0h-1.0zM241.4 233.4h1.0v1.0h-1.0zM235.6 233.1h1.0v1.0h-1.0zM238.5 234.2h1.0v1.0h-1.0zM244.7 234.5h1.0v1.0h-1.0zM238.5 232.3h1.0v1.0h-1.0zM238.0 234.1h1.0v1.0h-1.0zM241.6 234.3h1.0v1.0h-1.0zM245.8 234.5h1.0v1.0h-1.0zM240.6 232.4h1.0v1.0h-1.0zM239.7 230.3h1.0v1.0h-1.0zM241.0 234.3h1.0v1.0h-1.0zM241.7 232.9h1.0v1.0h-1.0zM239.4 232.9h1.0v1.0h-1.0zM244.4 233.5h1.0v1.0h-1.0zM241.1 231.6h1.0v1.0h-1.0zM243.2 233.4h1.0v1.0h-1.0zM246.4 234.4h1.0v1.0h-1.0zM244.4 234.4h1.0v1.0h-1.0zM242.3 234.2h1.0v1.0h-1.0zM240.3 232.2h1.0v1.0h-1.0zM244.5 232.1h1.0v1.0h-1.0zM237.9 233.6h1.0v1.0h-1.0zM237.7 233.2h1.0v1.0h-1.0zM241.0 234.6h1.0v1.0h-1.0zM242.2 232.6h1.0v1.0h-1.0zM241.9 231.2h1.0v1.0h-1.0zM237.2 234.4h1.0v1.0h-1.0zM235.3 233.5h1.0v1.0h-1.0zM264.0 234.6h1.0v1.0h-1.0zM263.0 234.2h1.0v1.0h-1.0zM265.3 230.4h1.0v1.0h-1.0zM269.0 234.2h1.0v1.0h-1.0zM265.0 234.4h1.0v1.0h-1.0zM271.5 233.9h1.0v1.0h-1.0zM269.6 232.5h1.0v1.0h-1.0zM271.1 234.6h1.0v1.0h-1.0zM264.5 233.9h1.0v1.0h-1.0zM261.8 231.1h1.0v1.0h-1.0zM264.6 232.2h1.0v1.0h-1.0zM266.8 234.6h1.0v1.0h-1.0zM265.4 234.2h1.0v1.0h-1.0zM261.4 234.4h1.0v1.0h-1.0zM267.6 234.6h1.0v1.0h-1.0zM264.4 233.8h1.0v1.0h-1.0zM267.0 234.4h1.0v1.0h-1.0zM268.9 234.2h1.0v1.0h-1.0zM269.1 232.8h1.0v1.0h-1.0zM262.6 234.3h1.0v1.0h-1.0zM264.1 232.6h1.0v1.0h-1.0zM265.5 233.9h1.0v1.0h-1.0zM270.7 234.2h1.0v1.0h-1.0zM264.2 234.0h1.0v1.0h-1.0zM263.3 234.6h1.0v1.0h-1.0zM261.2 233.0h1.0v1.0h-1.0zM267.3 231.9h1.0v1.0h-1.0zM271.9 234.1h1.0v1.0h-1.0zM268.5 230.5h1.0v1.0h-1.0zM263.3 232.7h1.0v1.0h-1.0zM268.4 229.5h1.0v1.0h-1.0zM270.7 234.2h1.0v1.0h-1.0zM268.0 234.5h1.0v1.0h-1.0zM265.7 233.8h1.0v1.0h-1.0zM261.6 233.9h1.0v1.0h-1.0zM264.6 233.5h1.0v1.0h-1.0zM264.1 234.4h1.0v1.0h-1.0zM265.4 233.6h1.0v1.0h-1.0zM262.8 232.9h1.0v1.0h-1.0zM263.6 234.5h1.0v1.0h-1.0zM264.8 233.8h1.0v1.0h-1.0zM262.6 233.2h1.0v1.0h-1.0zM268.8 233.3h1.0v1.0h-1.0zM286.5 234.1h1.0v1.0h-1.0zM289.9 233.4h1.0v1.0h-1.0zM285.3 234.2h1.0v1.0h-1.0zM286.1 234.3h1.0v1.0h-1.0zM287.8 234.4h1.0v1.0h-1.0zM283.8 234.6h1.0v1.0h-1.0zM284.1 232.6h1.0v1.0h-1.0zM284.2 233.7h1.0v1.0h-1.0zM290.1 233.6h1.0v1.0h-1.0zM284.6 231.3h1.0v1.0h-1.0zM290.9 234.6h1.0v1.0h-1.0zM285.5 233.5h1.0v1.0h-1.0zM290.3 233.8h1.0v1.0h-1.0zM289.6 234.2h1.0v1.0h-1.0zM289.6 234.0h1.0v1.0h-1.0zM286.2 232.3h1.0v1.0h-1.0zM290.7 231.7h1.0v1.0h-1.0zM288.3 233.8h1.0v1.0h-1.0zM289.5 233.0h1.0v1.0h-1.0zM290.6 232.0h1.0v1.0h-1.0zM284.3 233.9h1.0v1.0h-1.0zM289.2 234.2h1.0v1.0h-1.0zM284.8 234.6h1.0v1.0h-1.0zM288.4 230.0h1.0v1.0h-1.0zM291.8 234.4h1.0v1.0h-1.0zM289.3 233.8h1.0v1.0h-1.0zM288.8 233.8h1.0v1.0h-1.0zM291.5 234.4h1.0v1.0h-1.0zM289.5 234.5h1.0v1.0h-1.0zM283.6 234.1h1.0v1.0h-1.0zM289.7 233.9h1.0v1.0h-1.0zM286.1 234.6h1.0v1.0h-1.0zM288.0 233.6h1.0v1.0h-1.0zM286.5 234.1h1.0v1.0h-1.0zM302.6 232.2h1.0v1.0h-1.0zM308.3 230.9h1.0v1.0h-1.0zM307.8 232.6h1.0v1.0h-1.0zM308.3 230.5h1.0v1.0h-1.0zM308.0 233.0h1.0v1.0h-1.0zM309.3 232.6h1.0v1.0h-1.0zM307.6 233.0h1.0v1.0h-1.0zM309.0 233.4h1.0v1.0h-1.0zM306.7 233.0h1.0v1.0h-1.0zM305.3 232.7h1.0v1.0h-1.0zM307.2 230.7h1.0v1.0h-1.0zM305.1 231.8h1.0v1.0h-1.0zM305.0 232.9h1.0v1.0h-1.0zM309.0 232.8h1.0v1.0h-1.0zM303.2 232.8h1.0v1.0h-1.0zM307.8 233.1h1.0v1.0h-1.0zM307.9 232.1h1.0v1.0h-1.0zM307.4 233.1h1.0v1.0h-1.0zM303.3 233.2h1.0v1.0h-1.0zM305.0 232.5h1.0v1.0h-1.0zM302.6 232.3h1.0v1.0h-1.0zM305.4 232.8h1.0v1.0h-1.0zM306.4 232.4h1.0v1.0h-1.0zM308.8 232.8h1.0v1.0h-1.0zM307.9 233.3h1.0v1.0h-1.0zM309.6 232.5h1.0v1.0h-1.0zM309.4 233.1h1.0v1.0h-1.0zM305.4 231.4h1.0v1.0h-1.0zM303.8 232.9h1.0v1.0h-1.0zM307.4 228.6h1.0v1.0h-1.0zM304.8 233.1h1.0v1.0h-1.0zM305.1 232.7h1.0v1.0h-1.0zM307.1 232.7h1.0v1.0h-1.0zM307.1 233.1h1.0v1.0h-1.0zM306.9 229.8h1.0v1.0h-1.0zM308.7 231.8h1.0v1.0h-1.0zM306.1 232.1h1.0v1.0h-1.0zM303.3 230.4h1.0v1.0h-1.0zM307.5 232.5h1.0v1.0h-1.0zM307.3 232.6h1.0v1.0h-1.0zM305.3 233.0h1.0v1.0h-1.0zM306.8 232.0h1.0v1.0h-1.0zM306.2 233.4h1.0v1.0h-1.0zM307.0 232.5h1.0v1.0h-1.0zM306.8 232.0h1.0v1.0h-1.0zM309.2 233.2h1.0v1.0h-1.0zM305.9 229.8h1.0v1.0h-1.0zM304.8 231.2h1.0v1.0h-1.0zM309.6 232.6h1.0v1.0h-1.0zM308.7 233.2h1.0v1.0h-1.0zM309.6 232.3h1.0v1.0h-1.0zM304.2 230.4h1.0v1.0h-1.0zM321.3 232.0h1.0v1.0h-1.0zM323.0 231.6h1.0v1.0h-1.0zM319.9 232.6h1.0v1.0h-1.0zM319.2 229.7h1.0v1.0h-1.0zM320.0 232.6h1.0v1.0h-1.0zM320.6 230.6h1.0v1.0h-1.0zM324.0 232.0h1.0v1.0h-1.0zM322.0 233.3h1.0v1.0h-1.0zM324.3 233.3h1.0v1.0h-1.0zM320.7 232.7h1.0v1.0h-1.0zM323.1 231.6h1.0v1.0h-1.0zM320.6 229.7h1.0v1.0h-1.0zM324.7 233.4h1.0v1.0h-1.0zM322.5 232.4h1.0v1.0h-1.0zM320.7 232.4h1.0v1.0h-1.0zM320.4 231.6h1.0v1.0h-1.0zM322.4 228.6h1.0v1.0h-1.0zM325.0 232.6h1.0v1.0h-1.0zM323.9 231.7h1.0v1.0h-1.0zM323.0 233.1h1.0v1.0h-1.0zM321.4 232.6h1.0v1.0h-1.0zM322.7 233.1h1.0v1.0h-1.0zM324.9 233.1h1.0v1.0h-1.0zM320.8 233.2h1.0v1.0h-1.0zM320.9 231.2h1.0v1.0h-1.0zM318.9 233.2h1.0v1.0h-1.0zM322.6 231.8h1.0v1.0h-1.0zM323.3 233.0h1.0v1.0h-1.0zM323.7 231.3h1.0v1.0h-1.0zM323.5 233.3h1.0v1.0h-1.0zM321.4 233.4h1.0v1.0h-1.0zM324.1 228.7h1.0v1.0h-1.0zM324.3 233.4h1.0v1.0h-1.0zM320.7 232.2h1.0v1.0h-1.0zM321.9 233.3h1.0v1.0h-1.0zM323.6 232.9h1.0v1.0h-1.0zM321.7 233.2h1.0v1.0h-1.0zM322.1 233.2h1.0v1.0h-1.0zM318.9 232.3h1.0v1.0h-1.0zM320.3 231.0h1.0v1.0h-1.0zM320.0 232.6h1.0v1.0h-1.0zM318.7 233.1h1.0v1.0h-1.0zM321.3 232.1h1.0v1.0h-1.0zM321.4 230.3h1.0v1.0h-1.0zM319.0 230.3h1.0v1.0h-1.0zM319.3 230.8h1.0v1.0h-1.0zM321.0 231.9h1.0v1.0h-1.0zM324.1 231.4h1.0v1.0h-1.0zM318.4 233.2h1.0v1.0h-1.0zM332.5 230.8h1.0v1.0h-1.0zM333.3 230.2h1.0v1.0h-1.0zM333.2 232.9h1.0v1.0h-1.0zM334.5 233.3h1.0v1.0h-1.0zM336.0 230.5h1.0v1.0h-1.0zM332.8 232.8h1.0v1.0h-1.0zM335.2 230.9h1.0v1.0h-1.0zM334.3 233.4h1.0v1.0h-1.0zM334.9 233.4h1.0v1.0h-1.0zM334.3 232.1h1.0v1.0h-1.0zM335.7 231.8h1.0v1.0h-1.0zM331.3 228.9h1.0v1.0h-1.0zM334.9 232.0h1.0v1.0h-1.0zM331.2 231.2h1.0v1.0h-1.0zM333.2 231.6h1.0v1.0h-1.0zM336.0 229.3h1.0v1.0h-1.0zM331.6 230.9h1.0v1.0h-1.0zM333.4 231.1h1.0v1.0h-1.0zM333.1 232.5h1.0v1.0h-1.0zM333.3 233.3h1.0v1.0h-1.0zM332.8 231.3h1.0v1.0h-1.0zM331.6 233.3h1.0v1.0h-1.0zM335.3 231.6h1.0v1.0h-1.0zM333.9 233.3h1.0v1.0h-1.0zM331.8 232.8h1.0v1.0h-1.0zM335.9 232.1h1.0v1.0h-1.0zM335.7 233.1h1.0v1.0h-1.0zM333.2 232.2h1.0v1.0h-1.0zM335.3 233.2h1.0v1.0h-1.0zM335.5 232.4h1.0v1.0h-1.0zM331.4 232.5h1.0v1.0h-1.0zM333.0 231.6h1.0v1.0h-1.0zM335.7 232.3h1.0v1.0h-1.0zM334.6 232.6h1.0v1.0h-1.0zM335.0 233.3h1.0v1.0h-1.0zM334.8 233.2h1.0v1.0h-1.0zM334.1 233.1h1.0v1.0h-1.0zM344.5 232.7h1.0v1.0h-1.0zM345.8 231.4h1.0v1.0h-1.0zM342.6 230.2h1.0v1.0h-1.0zM344.7 233.0h1.0v1.0h-1.0zM342.4 233.4h1.0v1.0h-1.0zM343.8 233.0h1.0v1.0h-1.0zM342.6 233.0h1.0v1.0h-1.0zM341.8 232.4h1.0v1.0h-1.0zM342.5 232.9h1.0v1.0h-1.0zM342.5 232.3h1.0v1.0h-1.0zM345.4 233.2h1.0v1.0h-1.0zM345.3 230.3h1.0v1.0h-1.0zM344.1 232.2h1.0v1.0h-1.0zM344.7 232.2h1.0v1.0h-1.0zM344.4 229.3h1.0v1.0h-1.0zM344.9 233.0h1.0v1.0h-1.0zM341.5 228.9h1.0v1.0h-1.0zM342.9 230.9h1.0v1.0h-1.0zM342.3 232.5h1.0v1.0h-1.0zM343.0 231.3h1.0v1.0h-1.0zM345.7 232.3h1.0v1.0h-1.0zM343.9 232.7h1.0v1.0h-1.0zM342.3 228.5h1.0v1.0h-1.0zM341.7 228.8h1.0v1.0h-1.0zM344.4 233.3h1.0v1.0h-1.0zM345.5 233.3h1.0v1.0h-1.0zM343.9 233.3h1.0v1.0h-1.0zM345.9 232.8h1.0v1.0h-1.0zM345.4 233.4h1.0v1.0h-1.0zM344.4 233.3h1.0v1.0h-1.0zM341.3 232.1h1.0v1.0h-1.0zM345.9 231.5h1.0v1.0h-1.0zM345.3 230.9h1.0v1.0h-1.0zM343.7 233.3h1.0v1.0h-1.0zM343.7 233.1h1.0v1.0h-1.0zM343.7 232.7h1.0v1.0h-1.0zM343.6 233.1h1.0v1.0h-1.0z" fill="#1f4d7c"/>
<path d="M267.8 236.3h0.8v0.8h-0.8zM209.8 237.7h0.8v0.8h-0.8zM210.0 235.7h0.8v0.8h-0.8zM338.7 235.7h0.8v0.8h-0.8zM116.7 236.8h0.8v0.8h-0.8zM169.9 235.1h0.8v0.8h-0.8zM329.8 234.0h0.8v0.8h-0.8zM332.7 234.2h0.8v0.8h-0.8zM308.5 234.2h0.8v0.8h-0.8zM86.3 236.0h0.8v0.8h-0.8zM237.5 235.2h0.8v0.8h-0.8zM243.4 235.5h0.8v0.8h-0.8zM328.3 237.6h0.8v0.8h-0.8zM218.6 234.1h0.8v0.8h-0.8zM89.4 237.5h0.8v0.8h-0.8zM311.3 234.1h0.8v0.8h-0.8zM87.4 237.9h0.8v0.8h-0.8zM300.9 235.2h0.8v0.8h-0.8zM218.7 235.6h0.8v0.8h-0.8zM281.7 234.7h0.8v0.8h-0.8zM81.2 237.7h0.8v0.8h-0.8zM291.5 234.0h0.8v0.8h-0.8zM301.8 236.3h0.8v0.8h-0.8zM169.9 236.6h0.8v0.8h-0.8zM85.0 234.9h0.8v0.8h-0.8zM150.5 235.6h0.8v0.8h-0.8zM220.4 236.6h0.8v0.8h-0.8zM259.8 236.1h0.8v0.8h-0.8zM143.1 234.4h0.8v0.8h-0.8zM127.6 237.4h0.8v0.8h-0.8zM148.2 236.0h0.8v0.8h-0.8zM288.7 236.6h0.8v0.8h-0.8zM144.1 235.3h0.8v0.8h-0.8zM150.0 235.9h0.8v0.8h-0.8zM148.6 234.4h0.8v0.8h-0.8zM129.9 237.0h0.8v0.8h-0.8zM160.9 236.6h0.8v0.8h-0.8zM273.5 235.2h0.8v0.8h-0.8zM290.4 235.8h0.8v0.8h-0.8zM101.8 234.9h0.8v0.8h-0.8zM145.8 237.1h0.8v0.8h-0.8zM190.8 234.0h0.8v0.8h-0.8zM179.2 236.5h0.8v0.8h-0.8zM322.4 234.0h0.8v0.8h-0.8zM183.6 237.4h0.8v0.8h-0.8zM290.2 234.8h0.8v0.8h-0.8zM170.6 234.8h0.8v0.8h-0.8zM181.6 236.8h0.8v0.8h-0.8zM238.2 235.0h0.8v0.8h-0.8zM207.1 234.7h0.8v0.8h-0.8zM84.7 236.0h0.8v0.8h-0.8zM181.8 237.7h0.8v0.8h-0.8zM323.4 237.4h0.8v0.8h-0.8zM135.5 234.4h0.8v0.8h-0.8zM335.5 234.2h0.8v0.8h-0.8zM171.6 234.2h0.8v0.8h-0.8zM118.6 235.1h0.8v0.8h-0.8zM331.6 237.2h0.8v0.8h-0.8zM117.0 235.2h0.8v0.8h-0.8zM314.9 235.0h0.8v0.8h-0.8zM332.6 236.1h0.8v0.8h-0.8zM179.7 237.5h0.8v0.8h-0.8zM153.3 234.2h0.8v0.8h-0.8zM100.0 237.2h0.8v0.8h-0.8zM173.1 237.8h0.8v0.8h-0.8zM162.3 237.2h0.8v0.8h-0.8zM113.5 235.8h0.8v0.8h-0.8zM224.2 235.7h0.8v0.8h-0.8zM283.0 235.8h0.8v0.8h-0.8zM332.0 237.7h0.8v0.8h-0.8zM140.1 237.7h0.8v0.8h-0.8zM163.0 234.9h0.8v0.8h-0.8zM325.9 235.9h0.8v0.8h-0.8zM123.5 236.6h0.8v0.8h-0.8zM231.6 236.8h0.8v0.8h-0.8zM291.1 234.0h0.8v0.8h-0.8zM202.8 235.5h0.8v0.8h-0.8zM305.2 236.1h0.8v0.8h-0.8zM131.6 234.1h0.8v0.8h-0.8zM340.1 237.9h0.8v0.8h-0.8zM283.1 236.4h0.8v0.8h-0.8zM94.8 237.3h0.8v0.8h-0.8zM126.9 235.0h0.8v0.8h-0.8zM137.1 237.9h0.8v0.8h-0.8zM139.2 234.7h0.8v0.8h-0.8zM213.3 235.3h0.8v0.8h-0.8zM204.2 237.2h0.8v0.8h-0.8zM85.0 236.8h0.8v0.8h-0.8zM92.0 236.9h0.8v0.8h-0.8zM245.0 236.5h0.8v0.8h-0.8zM206.3 235.4h0.8v0.8h-0.8zM165.0 236.5h0.8v0.8h-0.8zM315.2 235.6h0.8v0.8h-0.8zM191.5 235.8h0.8v0.8h-0.8zM203.0 236.6h0.8v0.8h-0.8zM323.1 237.0h0.8v0.8h-0.8zM329.0 234.5h0.8v0.8h-0.8zM314.7 237.3h0.8v0.8h-0.8zM215.8 234.0h0.8v0.8h-0.8zM157.5 237.3h0.8v0.8h-0.8zM272.7 237.0h0.8v0.8h-0.8zM235.7 237.3h0.8v0.8h-0.8zM332.1 236.8h0.8v0.8h-0.8zM106.7 235.2h0.8v0.8h-0.8zM173.0 235.7h0.8v0.8h-0.8zM212.8 234.2h0.8v0.8h-0.8zM217.3 236.4h0.8v0.8h-0.8zM81.4 236.0h0.8v0.8h-0.8zM152.3 235.7h0.8v0.8h-0.8zM248.5 236.1h0.8v0.8h-0.8zM104.8 236.0h0.8v0.8h-0.8zM208.7 235.4h0.8v0.8h-0.8zM338.1 236.8h0.8v0.8h-0.8zM198.3 237.6h0.8v0.8h-0.8zM293.0 237.0h0.8v0.8h-0.8zM300.7 234.7h0.8v0.8h-0.8zM148.5 234.3h0.8v0.8h-0.8zM214.5 236.3h0.8v0.8h-0.8zM228.1 234.1h0.8v0.8h-0.8zM210.8 236.0h0.8v0.8h-0.8zM158.0 234.6h0.8v0.8h-0.8zM214.3 236.6h0.8v0.8h-0.8zM133.1 237.1h0.8v0.8h-0.8zM302.0 234.7h0.8v0.8h-0.8zM340.3 234.3h0.8v0.8h-0.8zM262.6 234.7h0.8v0.8h-0.8zM269.6 234.7h0.8v0.8h-0.8zM293.3 237.3h0.8v0.8h-0.8zM296.9 236.8h0.8v0.8h-0.8zM145.7 234.2h0.8v0.8h-0.8zM87.1 235.9h0.8v0.8h-0.8zM171.9 234.8h0.8v0.8h-0.8zM242.8 234.3h0.8v0.8h-0.8zM328.1 235.4h0.8v0.8h-0.8zM98.1 235.3h0.8v0.8h-0.8zM110.0 234.0h0.8v0.8h-0.8zM311.9 236.7h0.8v0.8h-0.8zM130.3 235.2h0.8v0.8h-0.8zM281.9 234.0h0.8v0.8h-0.8zM246.1 237.5h0.8v0.8h-0.8zM273.6 237.8h0.8v0.8h-0.8zM310.9 234.9h0.8v0.8h-0.8zM289.1 234.4h0.8v0.8h-0.8zM231.8 234.1h0.8v0.8h-0.8zM250.4 236.0h0.8v0.8h-0.8zM182.9 236.6h0.8v0.8h-0.8zM87.1 237.3h0.8v0.8h-0.8zM291.8 237.1h0.8v0.8h-0.8zM254.2 234.8h0.8v0.8h-0.8zM265.0 235.9h0.8v0.8h-0.8zM164.7 236.9h0.8v0.8h-0.8zM130.6 235.4h0.8v0.8h-0.8zM262.9 234.2h0.8v0.8h-0.8zM168.6 234.2h0.8v0.8h-0.8zM322.6 236.8h0.8v0.8h-0.8zM333.3 235.5h0.8v0.8h-0.8zM336.1 234.8h0.8v0.8h-0.8zM169.3 236.9h0.8v0.8h-0.8zM219.5 236.0h0.8v0.8h-0.8zM90.4 234.5h0.8v0.8h-0.8zM222.9 236.1h0.8v0.8h-0.8zM278.3 237.0h0.8v0.8h-0.8zM133.8 235.6h0.8v0.8h-0.8zM145.0 236.7h0.8v0.8h-0.8zM99.5 237.8h0.8v0.8h-0.8zM175.2 235.8h0.8v0.8h-0.8zM332.5 235.4h0.8v0.8h-0.8zM190.8 236.3h0.8v0.8h-0.8zM143.4 236.1h0.8v0.8h-0.8zM335.2 237.5h0.8v0.8h-0.8zM195.7 235.2h0.8v0.8h-0.8zM283.0 235.7h0.8v0.8h-0.8zM250.9 234.2h0.8v0.8h-0.8zM320.2 237.0h0.8v0.8h-0.8zM224.4 233.9h0.8v0.8h-0.8zM220.8 237.2h0.8v0.8h-0.8zM284.0 237.8h0.8v0.8h-0.8zM120.8 235.7h0.8v0.8h-0.8zM153.2 235.1h0.8v0.8h-0.8zM273.6 236.7h0.8v0.8h-0.8zM284.2 235.4h0.8v0.8h-0.8zM268.1 236.1h0.8v0.8h-0.8zM195.6 237.6h0.8v0.8h-0.8zM206.8 234.1h0.8v0.8h-0.8zM316.4 237.8h0.8v0.8h-0.8zM99.8 236.9h0.8v0.8h-0.8zM265.0 236.2h0.8v0.8h-0.8zM114.9 236.3h0.8v0.8h-0.8zM232.9 235.0h0.8v0.8h-0.8zM187.8 235.3h0.8v0.8h-0.8zM261.5 235.5h0.8v0.8h-0.8zM93.3 235.1h0.8v0.8h-0.8zM115.1 237.8h0.8v0.8h-0.8zM206.5 237.9h0.8v0.8h-0.8zM100.3 236.4h0.8v0.8h-0.8zM205.2 237.6h0.8v0.8h-0.8zM333.7 234.5h0.8v0.8h-0.8zM210.0 235.6h0.8v0.8h-0.8zM164.6 234.0h0.8v0.8h-0.8zM112.8 236.8h0.8v0.8h-0.8zM139.6 234.5h0.8v0.8h-0.8zM215.8 236.3h0.8v0.8h-0.8zM186.7 234.4h0.8v0.8h-0.8zM149.2 234.8h0.8v0.8h-0.8zM268.6 236.2h0.8v0.8h-0.8zM177.9 236.2h0.8v0.8h-0.8zM201.1 236.7h0.8v0.8h-0.8zM246.3 236.3h0.8v0.8h-0.8zM161.5 234.8h0.8v0.8h-0.8zM201.6 236.1h0.8v0.8h-0.8zM314.1 236.1h0.8v0.8h-0.8zM180.6 234.3h0.8v0.8h-0.8zM339.7 234.8h0.8v0.8h-0.8zM187.4 235.3h0.8v0.8h-0.8zM277.3 236.8h0.8v0.8h-0.8zM272.9 234.1h0.8v0.8h-0.8zM254.8 235.3h0.8v0.8h-0.8zM196.3 235.3h0.8v0.8h-0.8zM140.9 234.9h0.8v0.8h-0.8zM223.9 234.0h0.8v0.8h-0.8z" fill="#ffffff"/>
<path d="M83.6 224.6h1.6v1.6h-1.6zM83.4 221.9h1.6v1.6h-1.6zM84.0 219.7h1.6v1.6h-1.6zM83.9 217.8h1.6v1.6h-1.6zM83.7 216.1h1.6v1.6h-1.6zM83.5 212.8h1.6v1.6h-1.6zM83.4 209.6h1.6v1.6h-1.6zM84.1 207.2h1.6v1.6h-1.6zM83.7 204.2h1.6v1.6h-1.6zM84.0 201.7h1.6v1.6h-1.6zM84.0 198.8h1.6v1.6h-1.6zM88.0 223.4h1.6v1.6h-1.6zM88.3 218.0h1.6v1.6h-1.6zM99.5 225.8h1.6v1.6h-1.6zM102.8 227.5h1.6v1.6h-1.6zM107.5 226.9h1.6v1.6h-1.6zM107.4 224.3h1.6v1.6h-1.6zM107.0 220.0h1.6v1.6h-1.6zM107.2 216.8h1.6v1.6h-1.6zM106.9 213.7h1.6v1.6h-1.6zM107.6 210.2h1.6v1.6h-1.6zM110.9 226.9h1.6v1.6h-1.6zM111.0 223.0h1.6v1.6h-1.6zM111.2 220.9h1.6v1.6h-1.6zM111.1 217.9h1.6v1.6h-1.6zM111.1 213.5h1.6v1.6h-1.6zM120.5 225.2h1.6v1.6h-1.6zM129.3 218.2h1.6v1.6h-1.6zM128.9 213.2h1.6v1.6h-1.6zM134.3 225.8h1.6v1.6h-1.6zM134.0 217.9h1.6v1.6h-1.6zM134.0 212.8h1.6v1.6h-1.6zM139.6 201.8h1.6v1.6h-1.6zM140.1 200.0h1.6v1.6h-1.6zM139.8 198.7h1.6v1.6h-1.6zM140.4 196.1h1.6v1.6h-1.6zM149.7 226.4h1.6v1.6h-1.6zM149.6 221.1h1.6v1.6h-1.6zM153.1 214.1h1.6v1.6h-1.6zM152.9 211.0h1.6v1.6h-1.6zM152.5 206.4h1.6v1.6h-1.6zM153.2 201.5h1.6v1.6h-1.6zM156.9 226.4h1.6v1.6h-1.6zM156.6 220.9h1.6v1.6h-1.6zM156.5 214.8h1.6v1.6h-1.6zM167.9 224.6h1.6v1.6h-1.6zM168.4 222.4h1.6v1.6h-1.6zM168.2 219.9h1.6v1.6h-1.6zM167.9 216.7h1.6v1.6h-1.6zM168.2 214.9h1.6v1.6h-1.6zM178.8 221.7h1.6v1.6h-1.6zM178.3 219.0h1.6v1.6h-1.6zM178.7 216.1h1.6v1.6h-1.6zM178.6 211.9h1.6v1.6h-1.6zM182.4 227.5h1.6v1.6h-1.6zM182.2 224.8h1.6v1.6h-1.6zM182.8 221.7h1.6v1.6h-1.6zM190.2 226.9h1.6v1.6h-1.6zM190.5 225.4h1.6v1.6h-1.6zM190.5 224.2h1.6v1.6h-1.6zM190.7 223.0h1.6v1.6h-1.6zM190.4 221.0h1.6v1.6h-1.6zM189.9 219.7h1.6v1.6h-1.6zM190.8 218.0h1.6v1.6h-1.6zM190.7 215.9h1.6v1.6h-1.6zM190.0 214.7h1.6v1.6h-1.6zM190.5 213.5h1.6v1.6h-1.6zM190.1 212.1h1.6v1.6h-1.6zM190.5 209.9h1.6v1.6h-1.6zM190.3 208.3h1.6v1.6h-1.6zM190.4 206.7h1.6v1.6h-1.6zM196.7 226.4h1.6v1.6h-1.6zM196.6 223.9h1.6v1.6h-1.6zM196.4 221.4h1.6v1.6h-1.6zM196.9 218.8h1.6v1.6h-1.6zM196.4 216.3h1.6v1.6h-1.6zM196.8 212.3h1.6v1.6h-1.6zM196.6 209.2h1.6v1.6h-1.6zM197.0 205.1h1.6v1.6h-1.6zM196.9 201.7h1.6v1.6h-1.6zM196.8 198.1h1.6v1.6h-1.6zM199.0 224.0h1.6v1.6h-1.6zM202.1 226.9h1.6v1.6h-1.6zM202.1 224.3h1.6v1.6h-1.6zM202.3 221.5h1.6v1.6h-1.6zM201.8 217.9h1.6v1.6h-1.6zM201.9 216.3h1.6v1.6h-1.6zM202.3 214.6h1.6v1.6h-1.6zM201.9 211.6h1.6v1.6h-1.6zM202.4 209.6h1.6v1.6h-1.6zM202.2 206.2h1.6v1.6h-1.6zM208.1 202.9h1.6v1.6h-1.6zM207.8 199.2h1.6v1.6h-1.6zM208.3 195.2h1.6v1.6h-1.6zM202.5 225.2h1.6v1.6h-1.6zM201.7 221.7h1.6v1.6h-1.6zM202.6 219.6h1.6v1.6h-1.6zM202.1 216.8h1.6v1.6h-1.6zM202.5 214.5h1.6v1.6h-1.6zM202.6 211.7h1.6v1.6h-1.6zM202.6 210.0h1.6v1.6h-1.6zM201.8 208.4h1.6v1.6h-1.6zM202.3 205.9h1.6v1.6h-1.6zM207.5 226.4h1.6v1.6h-1.6zM207.3 221.1h1.6v1.6h-1.6zM207.5 216.3h1.6v1.6h-1.6zM207.1 212.2h1.6v1.6h-1.6zM207.8 208.4h1.6v1.6h-1.6zM207.1 204.0h1.6v1.6h-1.6zM207.4 200.3h1.6v1.6h-1.6zM207.5 196.9h1.6v1.6h-1.6zM209.9 224.0h1.6v1.6h-1.6zM210.5 221.0h1.6v1.6h-1.6zM209.9 218.1h1.6v1.6h-1.6zM210.2 213.4h1.6v1.6h-1.6zM210.4 208.0h1.6v1.6h-1.6zM210.4 205.4h1.6v1.6h-1.6zM210.6 202.3h1.6v1.6h-1.6zM216.4 221.7h1.6v1.6h-1.6zM215.8 219.2h1.6v1.6h-1.6zM222.3 222.8h1.6v1.6h-1.6zM222.2 220.5h1.6v1.6h-1.6zM222.6 218.3h1.6v1.6h-1.6zM222.5 214.0h1.6v1.6h-1.6zM222.9 211.5h1.6v1.6h-1.6zM222.7 209.2h1.6v1.6h-1.6zM223.0 205.8h1.6v1.6h-1.6zM229.1 222.8h1.6v1.6h-1.6zM229.4 220.4h1.6v1.6h-1.6zM229.3 218.2h1.6v1.6h-1.6zM229.1 216.3h1.6v1.6h-1.6zM228.8 212.5h1.6v1.6h-1.6zM229.4 210.3h1.6v1.6h-1.6zM228.7 207.2h1.6v1.6h-1.6zM228.8 205.2h1.6v1.6h-1.6zM229.4 202.9h1.6v1.6h-1.6zM229.5 199.8h1.6v1.6h-1.6zM233.9 227.5h1.6v1.6h-1.6zM233.9 225.1h1.6v1.6h-1.6zM233.3 222.4h1.6v1.6h-1.6zM233.6 219.7h1.6v1.6h-1.6zM233.3 216.9h1.6v1.6h-1.6zM234.2 215.3h1.6v1.6h-1.6zM233.6 212.8h1.6v1.6h-1.6zM233.8 210.9h1.6v1.6h-1.6zM236.4 224.0h1.6v1.6h-1.6zM236.7 220.9h1.6v1.6h-1.6zM236.7 217.1h1.6v1.6h-1.6zM236.4 214.7h1.6v1.6h-1.6zM242.7 226.4h1.6v1.6h-1.6zM242.7 223.3h1.6v1.6h-1.6zM243.1 221.6h1.6v1.6h-1.6zM243.2 218.6h1.6v1.6h-1.6zM243.3 215.8h1.6v1.6h-1.6zM242.7 213.0h1.6v1.6h-1.6zM242.8 210.1h1.6v1.6h-1.6zM242.7 208.4h1.6v1.6h-1.6zM243.5 207.0h1.6v1.6h-1.6zM242.7 204.9h1.6v1.6h-1.6zM244.6 225.2h1.6v1.6h-1.6zM244.7 221.0h1.6v1.6h-1.6zM243.9 218.6h1.6v1.6h-1.6zM249.3 225.8h1.6v1.6h-1.6zM249.3 223.9h1.6v1.6h-1.6zM249.3 220.9h1.6v1.6h-1.6zM249.6 218.9h1.6v1.6h-1.6zM249.2 216.5h1.6v1.6h-1.6zM249.6 213.7h1.6v1.6h-1.6zM249.5 211.2h1.6v1.6h-1.6zM249.7 209.5h1.6v1.6h-1.6zM249.4 207.5h1.6v1.6h-1.6zM249.9 205.9h1.6v1.6h-1.6zM249.5 203.0h1.6v1.6h-1.6zM255.2 225.8h1.6v1.6h-1.6zM254.7 224.2h1.6v1.6h-1.6zM254.7 221.4h1.6v1.6h-1.6zM255.2 218.7h1.6v1.6h-1.6zM254.6 217.3h1.6v1.6h-1.6zM255.0 215.4h1.6v1.6h-1.6zM255.0 212.5h1.6v1.6h-1.6zM254.5 209.3h1.6v1.6h-1.6zM255.1 207.2h1.6v1.6h-1.6zM254.5 204.4h1.6v1.6h-1.6zM255.0 201.1h1.6v1.6h-1.6zM254.7 198.1h1.6v1.6h-1.6zM255.2 195.5h1.6v1.6h-1.6zM264.3 224.0h1.6v1.6h-1.6zM264.6 220.9h1.6v1.6h-1.6zM264.3 217.9h1.6v1.6h-1.6zM263.9 214.7h1.6v1.6h-1.6zM264.2 212.6h1.6v1.6h-1.6zM264.4 211.0h1.6v1.6h-1.6zM264.3 209.5h1.6v1.6h-1.6zM264.0 207.6h1.6v1.6h-1.6zM263.9 205.1h1.6v1.6h-1.6zM264.5 202.9h1.6v1.6h-1.6zM264.0 199.6h1.6v1.6h-1.6zM264.4 197.5h1.6v1.6h-1.6zM264.5 195.8h1.6v1.6h-1.6zM264.2 194.1h1.6v1.6h-1.6zM270.8 215.8h1.6v1.6h-1.6zM270.8 214.2h1.6v1.6h-1.6zM271.0 211.9h1.6v1.6h-1.6zM271.3 208.1h1.6v1.6h-1.6zM271.4 206.4h1.6v1.6h-1.6zM271.2 204.3h1.6v1.6h-1.6zM271.5 201.0h1.6v1.6h-1.6zM277.0 227.5h1.6v1.6h-1.6zM277.0 225.6h1.6v1.6h-1.6zM277.3 223.6h1.6v1.6h-1.6zM277.2 221.3h1.6v1.6h-1.6zM277.3 219.7h1.6v1.6h-1.6zM276.8 216.5h1.6v1.6h-1.6zM276.8 213.9h1.6v1.6h-1.6zM277.0 212.5h1.6v1.6h-1.6zM277.3 210.8h1.6v1.6h-1.6zM277.2 208.3h1.6v1.6h-1.6zM276.7 205.1h1.6v1.6h-1.6zM276.7 203.5h1.6v1.6h-1.6zM277.4 201.3h1.6v1.6h-1.6zM280.0 224.0h1.6v1.6h-1.6zM279.9 220.5h1.6v1.6h-1.6zM280.1 218.7h1.6v1.6h-1.6zM279.8 217.0h1.6v1.6h-1.6zM279.7 215.4h1.6v1.6h-1.6zM280.0 213.7h1.6v1.6h-1.6zM280.1 211.8h1.6v1.6h-1.6zM279.9 208.3h1.6v1.6h-1.6zM280.2 206.5h1.6v1.6h-1.6zM285.0 225.2h1.6v1.6h-1.6zM284.8 222.8h1.6v1.6h-1.6zM284.8 219.7h1.6v1.6h-1.6zM284.5 216.5h1.6v1.6h-1.6zM287.7 225.2h1.6v1.6h-1.6zM287.2 222.2h1.6v1.6h-1.6zM287.4 219.1h1.6v1.6h-1.6zM287.6 215.8h1.6v1.6h-1.6zM287.2 212.6h1.6v1.6h-1.6zM287.7 210.5h1.6v1.6h-1.6zM288.0 206.9h1.6v1.6h-1.6zM287.4 203.1h1.6v1.6h-1.6zM287.6 200.1h1.6v1.6h-1.6zM287.5 196.2h1.6v1.6h-1.6zM290.5 226.4h1.6v1.6h-1.6zM290.5 224.2h1.6v1.6h-1.6zM291.0 222.2h1.6v1.6h-1.6zM290.4 220.7h1.6v1.6h-1.6zM290.7 219.2h1.6v1.6h-1.6zM290.2 217.6h1.6v1.6h-1.6zM290.6 215.4h1.6v1.6h-1.6zM290.5 212.6h1.6v1.6h-1.6zM292.8 226.4h1.6v1.6h-1.6zM292.6 223.8h1.6v1.6h-1.6zM293.2 222.6h1.6v1.6h-1.6zM292.5 220.7h1.6v1.6h-1.6zM293.2 219.4h1.6v1.6h-1.6zM292.5 217.0h1.6v1.6h-1.6zM292.6 214.8h1.6v1.6h-1.6zM293.0 213.0h1.6v1.6h-1.6zM293.3 211.8h1.6v1.6h-1.6zM292.6 210.1h1.6v1.6h-1.6zM292.5 207.7h1.6v1.6h-1.6zM293.0 206.5h1.6v1.6h-1.6zM293.2 204.6h1.6v1.6h-1.6zM292.6 202.2h1.6v1.6h-1.6zM293.0 201.0h1.6v1.6h-1.6zM292.7 199.1h1.6v1.6h-1.6zM292.6 196.5h1.6v1.6h-1.6zM292.5 194.3h1.6v1.6h-1.6zM293.3 191.7h1.6v1.6h-1.6zM297.4 226.4h1.6v1.6h-1.6zM297.9 223.1h1.6v1.6h-1.6zM297.1 219.7h1.6v1.6h-1.6zM297.2 217.0h1.6v1.6h-1.6zM298.0 214.2h1.6v1.6h-1.6zM297.3 210.7h1.6v1.6h-1.6zM297.4 207.8h1.6v1.6h-1.6zM297.8 205.9h1.6v1.6h-1.6zM297.4 202.6h1.6v1.6h-1.6zM297.7 200.0h1.6v1.6h-1.6zM297.5 196.8h1.6v1.6h-1.6zM303.1 226.9h1.6v1.6h-1.6zM303.7 226.0h1.6v1.6h-1.6zM303.5 224.8h1.6v1.6h-1.6zM303.3 223.7h1.6v1.6h-1.6zM303.8 222.8h1.6v1.6h-1.6zM303.1 221.5h1.6v1.6h-1.6zM303.5 220.0h1.6v1.6h-1.6zM303.7 218.6h1.6v1.6h-1.6zM303.8 217.3h1.6v1.6h-1.6zM303.3 215.6h1.6v1.6h-1.6zM303.3 214.2h1.6v1.6h-1.6zM303.3 213.0h1.6v1.6h-1.6zM303.3 211.6h1.6v1.6h-1.6zM303.7 210.5h1.6v1.6h-1.6zM303.6 209.0h1.6v1.6h-1.6zM303.3 207.4h1.6v1.6h-1.6zM303.2 206.0h1.6v1.6h-1.6zM303.1 205.0h1.6v1.6h-1.6zM309.1 226.4h1.6v1.6h-1.6zM308.6 225.1h1.6v1.6h-1.6zM308.4 224.0h1.6v1.6h-1.6zM309.0 222.3h1.6v1.6h-1.6zM308.5 221.3h1.6v1.6h-1.6zM308.4 219.4h1.6v1.6h-1.6zM308.6 217.3h1.6v1.6h-1.6zM308.4 215.8h1.6v1.6h-1.6zM308.6 214.5h1.6v1.6h-1.6zM308.9 213.3h1.6v1.6h-1.6zM308.8 212.3h1.6v1.6h-1.6zM308.5 210.4h1.6v1.6h-1.6zM308.3 209.3h1.6v1.6h-1.6zM308.9 208.3h1.6v1.6h-1.6zM308.2 206.6h1.6v1.6h-1.6zM312.3 226.4h1.6v1.6h-1.6zM311.8 224.4h1.6v1.6h-1.6zM312.1 222.2h1.6v1.6h-1.6zM312.1 219.0h1.6v1.6h-1.6zM312.5 215.8h1.6v1.6h-1.6zM311.9 213.3h1.6v1.6h-1.6zM311.8 210.4h1.6v1.6h-1.6zM311.8 208.0h1.6v1.6h-1.6zM312.1 206.5h1.6v1.6h-1.6zM315.6 226.4h1.6v1.6h-1.6zM315.5 223.9h1.6v1.6h-1.6zM315.4 220.7h1.6v1.6h-1.6zM315.1 218.1h1.6v1.6h-1.6zM315.3 215.2h1.6v1.6h-1.6zM315.2 213.5h1.6v1.6h-1.6zM315.1 211.4h1.6v1.6h-1.6zM315.3 208.6h1.6v1.6h-1.6zM315.4 206.2h1.6v1.6h-1.6zM314.8 203.2h1.6v1.6h-1.6zM314.7 201.6h1.6v1.6h-1.6zM315.5 199.9h1.6v1.6h-1.6zM315.1 198.0h1.6v1.6h-1.6zM315.2 195.7h1.6v1.6h-1.6zM318.9 226.4h1.6v1.6h-1.6zM318.9 224.4h1.6v1.6h-1.6zM318.2 221.4h1.6v1.6h-1.6zM318.3 219.0h1.6v1.6h-1.6zM318.3 215.9h1.6v1.6h-1.6zM318.9 214.1h1.6v1.6h-1.6zM318.8 211.6h1.6v1.6h-1.6zM318.7 209.4h1.6v1.6h-1.6zM318.6 207.7h1.6v1.6h-1.6zM318.8 205.8h1.6v1.6h-1.6zM318.3 204.3h1.6v1.6h-1.6zM318.7 202.5h1.6v1.6h-1.6zM318.2 200.0h1.6v1.6h-1.6zM318.9 196.8h1.6v1.6h-1.6zM318.3 194.7h1.6v1.6h-1.6zM323.8 226.4h1.6v1.6h-1.6zM323.6 224.7h1.6v1.6h-1.6zM323.7 221.7h1.6v1.6h-1.6zM323.0 220.0h1.6v1.6h-1.6zM323.1 218.3h1.6v1.6h-1.6zM323.7 215.2h1.6v1.6h-1.6zM323.0 212.9h1.6v1.6h-1.6zM323.1 210.9h1.6v1.6h-1.6zM323.5 208.3h1.6v1.6h-1.6zM323.3 205.4h1.6v1.6h-1.6zM323.3 203.1h1.6v1.6h-1.6zM323.3 201.1h1.6v1.6h-1.6zM323.5 198.4h1.6v1.6h-1.6zM323.4 196.4h1.6v1.6h-1.6zM322.9 194.8h1.6v1.6h-1.6zM323.2 192.7h1.6v1.6h-1.6zM322.9 191.3h1.6v1.6h-1.6zM330.2 227.5h1.6v1.6h-1.6zM329.3 225.9h1.6v1.6h-1.6zM329.6 224.9h1.6v1.6h-1.6zM329.4 223.8h1.6v1.6h-1.6zM330.1 222.5h1.6v1.6h-1.6zM329.5 221.4h1.6v1.6h-1.6zM329.3 220.6h1.6v1.6h-1.6zM329.5 219.0h1.6v1.6h-1.6zM330.0 217.6h1.6v1.6h-1.6zM329.5 216.8h1.6v1.6h-1.6zM330.0 215.7h1.6v1.6h-1.6zM329.6 214.2h1.6v1.6h-1.6zM329.6 213.0h1.6v1.6h-1.6zM330.0 211.8h1.6v1.6h-1.6zM330.0 210.8h1.6v1.6h-1.6zM329.9 209.2h1.6v1.6h-1.6zM330.2 207.4h1.6v1.6h-1.6zM330.2 206.5h1.6v1.6h-1.6zM330.0 205.6h1.6v1.6h-1.6zM329.6 204.8h1.6v1.6h-1.6zM330.1 203.6h1.6v1.6h-1.6zM329.5 202.2h1.6v1.6h-1.6zM330.1 200.5h1.6v1.6h-1.6zM329.4 199.3h1.6v1.6h-1.6zM329.6 198.2h1.6v1.6h-1.6zM330.2 197.1h1.6v1.6h-1.6zM330.0 195.7h1.6v1.6h-1.6zM329.5 195.0h1.6v1.6h-1.6zM329.6 193.5h1.6v1.6h-1.6zM329.4 192.5h1.6v1.6h-1.6zM329.7 191.7h1.6v1.6h-1.6zM334.9 227.5h1.6v1.6h-1.6zM334.8 226.4h1.6v1.6h-1.6zM335.2 225.7h1.6v1.6h-1.6zM335.0 224.8h1.6v1.6h-1.6zM334.8 223.8h1.6v1.6h-1.6zM334.8 223.1h1.6v1.6h-1.6zM334.7 222.2h1.6v1.6h-1.6zM335.0 221.6h1.6v1.6h-1.6zM335.4 220.9h1.6v1.6h-1.6zM335.0 220.0h1.6v1.6h-1.6zM334.6 218.9h1.6v1.6h-1.6zM335.3 218.2h1.6v1.6h-1.6zM335.0 217.0h1.6v1.6h-1.6zM335.3 216.1h1.6v1.6h-1.6zM335.3 215.0h1.6v1.6h-1.6zM335.4 213.6h1.6v1.6h-1.6zM335.2 212.3h1.6v1.6h-1.6zM335.1 211.3h1.6v1.6h-1.6zM335.1 210.1h1.6v1.6h-1.6zM335.4 208.7h1.6v1.6h-1.6zM335.3 208.0h1.6v1.6h-1.6zM335.1 206.9h1.6v1.6h-1.6zM334.6 205.4h1.6v1.6h-1.6zM334.9 204.3h1.6v1.6h-1.6zM334.7 202.8h1.6v1.6h-1.6zM334.7 201.7h1.6v1.6h-1.6zM335.0 200.4h1.6v1.6h-1.6zM334.9 199.1h1.6v1.6h-1.6zM334.6 197.7h1.6v1.6h-1.6zM335.2 196.8h1.6v1.6h-1.6zM335.3 195.4h1.6v1.6h-1.6zM334.7 194.5h1.6v1.6h-1.6zM335.2 193.2h1.6v1.6h-1.6zM335.4 192.5h1.6v1.6h-1.6zM334.6 191.4h1.6v1.6h-1.6zM338.4 227.5h1.6v1.6h-1.6zM338.9 226.6h1.6v1.6h-1.6zM338.2 224.7h1.6v1.6h-1.6zM338.3 223.4h1.6v1.6h-1.6zM338.2 221.8h1.6v1.6h-1.6zM338.5 220.6h1.6v1.6h-1.6zM338.5 219.2h1.6v1.6h-1.6zM338.9 217.7h1.6v1.6h-1.6zM338.9 215.8h1.6v1.6h-1.6zM338.3 214.0h1.6v1.6h-1.6zM338.5 212.9h1.6v1.6h-1.6zM338.6 211.4h1.6v1.6h-1.6zM339.0 210.1h1.6v1.6h-1.6zM338.1 209.0h1.6v1.6h-1.6zM338.3 208.0h1.6v1.6h-1.6zM338.9 206.4h1.6v1.6h-1.6zM338.3 205.5h1.6v1.6h-1.6zM338.8 204.4h1.6v1.6h-1.6zM338.3 202.6h1.6v1.6h-1.6zM339.0 201.6h1.6v1.6h-1.6zM338.7 199.7h1.6v1.6h-1.6zM338.8 198.3h1.6v1.6h-1.6zM338.6 196.6h1.6v1.6h-1.6zM341.5 226.4h1.6v1.6h-1.6zM341.3 223.7h1.6v1.6h-1.6zM341.2 221.1h1.6v1.6h-1.6zM341.2 217.9h1.6v1.6h-1.6zM341.9 216.1h1.6v1.6h-1.6zM341.9 212.9h1.6v1.6h-1.6zM341.8 209.9h1.6v1.6h-1.6zM341.5 206.9h1.6v1.6h-1.6zM341.7 205.4h1.6v1.6h-1.6zM341.8 202.5h1.6v1.6h-1.6zM341.1 201.0h1.6v1.6h-1.6zM341.5 198.3h1.6v1.6h-1.6zM344.8 227.5h1.6v1.6h-1.6zM344.6 225.3h1.6v1.6h-1.6zM344.6 222.7h1.6v1.6h-1.6zM344.5 220.6h1.6v1.6h-1.6zM344.8 219.1h1.6v1.6h-1.6zM344.7 216.3h1.6v1.6h-1.6zM305.5 226.9h1.6v1.6h-1.6zM305.9 224.6h1.6v1.6h-1.6zM305.4 222.0h1.6v1.6h-1.6zM305.7 220.5h1.6v1.6h-1.6zM305.5 218.6h1.6v1.6h-1.6zM305.7 216.7h1.6v1.6h-1.6zM306.1 213.8h1.6v1.6h-1.6zM305.3 211.0h1.6v1.6h-1.6zM305.9 207.7h1.6v1.6h-1.6zM305.9 204.7h1.6v1.6h-1.6zM305.6 202.6h1.6v1.6h-1.6zM317.0 226.9h1.6v1.6h-1.6zM317.0 225.3h1.6v1.6h-1.6zM317.0 221.7h1.6v1.6h-1.6zM317.2 218.9h1.6v1.6h-1.6zM317.2 215.2h1.6v1.6h-1.6zM316.8 211.5h1.6v1.6h-1.6zM317.0 209.9h1.6v1.6h-1.6zM317.2 207.0h1.6v1.6h-1.6zM316.8 204.1h1.6v1.6h-1.6zM317.2 202.6h1.6v1.6h-1.6zM317.3 199.7h1.6v1.6h-1.6zM326.9 227.5h1.6v1.6h-1.6zM327.0 224.9h1.6v1.6h-1.6zM327.0 222.8h1.6v1.6h-1.6zM326.2 220.8h1.6v1.6h-1.6zM326.5 218.9h1.6v1.6h-1.6zM326.5 215.9h1.6v1.6h-1.6zM326.8 214.1h1.6v1.6h-1.6zM326.4 212.7h1.6v1.6h-1.6zM326.3 210.7h1.6v1.6h-1.6zM326.5 208.3h1.6v1.6h-1.6zM326.5 205.6h1.6v1.6h-1.6zM326.3 202.6h1.6v1.6h-1.6zM326.4 200.3h1.6v1.6h-1.6zM326.4 199.1h1.6v1.6h-1.6zM326.4 196.2h1.6v1.6h-1.6zM326.6 194.0h1.6v1.6h-1.6zM326.6 192.3h1.6v1.6h-1.6zM332.2 227.5h1.6v1.6h-1.6zM332.6 225.7h1.6v1.6h-1.6zM332.5 223.1h1.6v1.6h-1.6zM332.7 220.7h1.6v1.6h-1.6zM331.9 218.1h1.6v1.6h-1.6zM332.6 216.6h1.6v1.6h-1.6zM332.8 213.8h1.6v1.6h-1.6zM332.0 211.2h1.6v1.6h-1.6zM332.5 208.9h1.6v1.6h-1.6zM332.0 206.5h1.6v1.6h-1.6zM332.3 203.5h1.6v1.6h-1.6zM332.8 201.8h1.6v1.6h-1.6zM332.0 199.8h1.6v1.6h-1.6zM332.1 197.3h1.6v1.6h-1.6zM332.2 195.7h1.6v1.6h-1.6zM332.2 193.3h1.6v1.6h-1.6zM343.4 227.5h1.6v1.6h-1.6zM343.3 224.0h1.6v1.6h-1.6zM342.8 220.7h1.6v1.6h-1.6zM342.6 217.5h1.6v1.6h-1.6zM342.6 214.9h1.6v1.6h-1.6zM343.4 213.2h1.6v1.6h-1.6zM343.2 211.5h1.6v1.6h-1.6zM342.5 209.0h1.6v1.6h-1.6zM342.6 205.9h1.6v1.6h-1.6zM343.3 202.6h1.6v1.6h-1.6z" fill="#cf1515"/>
<line x1="81" y1="228.3" x2="347" y2="228.3" stroke="#8a8a8a" stroke-width="0.8" stroke-dasharray="2.2,1.6"/>
<path d="M80.8,189.7 V239.3 H347.5" fill="none" stroke="#666" stroke-width="0.8"/>
<line x1="79.5" y1="239.2" x2="80.8" y2="239.2" stroke="#666" stroke-width="0.5"/>
<text x="78.3" y="240.5" font-size="3.8" fill="#444" text-anchor="end">0</text>
<line x1="79.5" y1="231.6" x2="80.8" y2="231.6" stroke="#666" stroke-width="0.5"/>
<text x="78.3" y="232.9" font-size="3.8" fill="#444" text-anchor="end">5</text>
<line x1="79.5" y1="224.1" x2="80.8" y2="224.1" stroke="#666" stroke-width="0.5"/>
<text x="78.3" y="225.4" font-size="3.8" fill="#444" text-anchor="end">10</text>
<line x1="79.5" y1="216.5" x2="80.8" y2="216.5" stroke="#666" stroke-width="0.5"/>
<text x="78.3" y="217.8" font-size="3.8" fill="#444" text-anchor="end">15</text>
<line x1="79.5" y1="209.0" x2="80.8" y2="209.0" stroke="#666" stroke-width="0.5"/>
<text x="78.3" y="210.3" font-size="3.8" fill="#444" text-anchor="end">20</text>
<line x1="79.5" y1="201.4" x2="80.8" y2="201.4" stroke="#666" stroke-width="0.5"/>
<text x="78.3" y="202.8" font-size="3.8" fill="#444" text-anchor="end">25</text>
<line x1="79.5" y1="193.9" x2="80.8" y2="193.9" stroke="#666" stroke-width="0.5"/>
<text x="78.3" y="195.2" font-size="3.8" fill="#444" text-anchor="end">30</text>
<text x="93.0" y="244.3" font-size="3.8" fill="#444" text-anchor="middle">1</text>
<text x="115.9" y="244.3" font-size="3.8" fill="#444" text-anchor="middle">2</text>
<text x="135.8" y="244.3" font-size="3.8" fill="#444" text-anchor="middle">3</text>
<text x="153.7" y="244.3" font-size="3.8" fill="#444" text-anchor="middle">4</text>
<text x="170.7" y="244.3" font-size="3.8" fill="#444" text-anchor="middle">5</text>
<text x="186.8" y="244.3" font-size="3.8" fill="#444" text-anchor="middle">6</text>
<text x="202.1" y="244.3" font-size="3.8" fill="#444" text-anchor="middle">7</text>
<text x="216.1" y="244.3" font-size="3.8" fill="#444" text-anchor="middle">8</text>
<text x="228.9" y="244.3" font-size="3.8" fill="#444" text-anchor="middle">9</text>
<text x="241.6" y="244.3" font-size="3.8" fill="#444" text-anchor="middle">10</text>
<text x="254.4" y="244.3" font-size="3.8" fill="#444" text-anchor="middle">11</text>
<text x="267.0" y="244.3" font-size="3.8" fill="#444" text-anchor="middle">12</text>
<text x="278.2" y="244.3" font-size="3.8" fill="#444" text-anchor="middle">13</text>
<text x="288.1" y="244.3" font-size="3.8" fill="#444" text-anchor="middle">14</text>
<text x="297.8" y="244.3" font-size="3.8" fill="#444" text-anchor="middle">15</text>
<text x="306.6" y="244.3" font-size="3.8" fill="#444" text-anchor="middle">16</text>
<text x="314.5" y="244.3" font-size="3.8" fill="#444" text-anchor="middle">17</text>
<text x="322.1" y="244.3" font-size="3.8" fill="#444" text-anchor="middle">18</text>
<text x="328.6" y="244.3" font-size="3.8" fill="#444" text-anchor="middle">19</text>
<text x="334.1" y="244.3" font-size="3.8" fill="#444" text-anchor="middle">20</text>
<text x="339.1" y="244.3" font-size="3.8" fill="#444" text-anchor="middle">21</text>
<text x="344.1" y="244.3" font-size="3.8" fill="#444" text-anchor="middle">22</text>
<text transform="translate(70,214.5) rotate(-90)" font-size="4" fill="#333" text-anchor="middle">-log10(p)</text>
<path d="M28.48,304.00 L33.40,300.45 L38.32,304.00 L33.40,307.55Z" fill="#d3787c"/>
<path d="M38.02,304.00 L42.94,300.45 L47.86,304.00 L42.94,307.55Z" fill="#ce6569"/>
<path d="M47.56,304.00 L52.48,300.45 L57.40,304.00 L52.48,307.55Z" fill="#d3787c"/>
<path d="M57.10,304.00 L62.02,300.45 L66.94,304.00 L62.02,307.55Z" fill="#d3787c"/>
<path d="M66.64,304.00 L71.56,300.45 L76.48,304.00 L71.56,307.55Z" fill="#d3787c"/>
<path d="M76.18,304.00 L81.10,300.45 L86.02,304.00 L81.10,307.55Z" fill="#c85156"/>
<path d="M85.72,304.00 L90.64,300.45 L95.56,304.00 L90.64,307.55Z" fill="#d9e0ec"/>
<path d="M95.26,304.00 L100.18,300.45 L105.10,304.00 L100.18,307.55Z" fill="#d9e0ec"/>
<path d="M104.80,304.00 L109.72,300.45 L114.64,304.00 L109.72,307.55Z" fill="#c85156"/>
<path d="M114.34,304.00 L119.26,300.45 L124.18,304.00 L119.26,307.55Z" fill="#ce6569"/>
<path d="M123.88,304.00 L128.80,300.45 L133.72,304.00 L128.80,307.55Z" fill="#cb5b60"/>
<path d="M133.42,304.00 L138.34,300.45 L143.26,304.00 L138.34,307.55Z" fill="#ce6569"/>
<path d="M142.96,304.00 L147.88,300.45 L152.80,304.00 L147.88,307.55Z" fill="#ce6569"/>
<path d="M152.50,304.00 L157.42,300.45 L162.34,304.00 L157.42,307.55Z" fill="#cb5b60"/>
<path d="M162.04,304.00 L166.96,300.45 L171.88,304.00 L166.96,307.55Z" fill="#d06e73"/>
<path d="M171.58,304.00 L176.50,300.45 L181.42,304.00 L176.50,307.55Z" fill="#e6bcbe"/>
<path d="M181.12,304.00 L186.04,300.45 L190.96,304.00 L186.04,307.55Z" fill="#e6bcbe"/>
<path d="M190.66,304.00 L195.58,300.45 L200.50,304.00 L195.58,307.55Z" fill="#d3787c"/>
<path d="M33.25,307.40 L38.17,303.85 L43.09,307.40 L38.17,310.95Z" fill="#d68286"/>
<path d="M42.79,307.40 L47.71,303.85 L52.63,307.40 L47.71,310.95Z" fill="#d98c8f"/>
<path d="M52.33,307.40 L57.25,303.85 L62.17,307.40 L57.25,310.95Z" fill="#d98c8f"/>
<path d="M61.87,307.40 L66.79,303.85 L71.71,307.40 L66.79,310.95Z" fill="#d98c8f"/>
<path d="M71.41,307.40 L76.33,303.85 L81.25,307.40 L76.33,310.95Z" fill="#d68286"/>
<path d="M80.95,307.40 L85.87,303.85 L90.79,307.40 L85.87,310.95Z" fill="#cfd9e9"/>
<path d="M90.49,307.40 L95.41,303.85 L100.33,307.40 L95.41,310.95Z" fill="#d68286"/>
<path d="M100.03,307.40 L104.95,303.85 L109.87,307.40 L104.95,310.95Z" fill="#d9e0ec"/>
<path d="M109.57,307.40 L114.49,303.85 L119.41,307.40 L114.49,310.95Z" fill="#ce6569"/>
<path d="M119.11,307.40 L124.03,303.85 L128.95,307.40 L124.03,310.95Z" fill="#ce6569"/>
<path d="M128.65,307.40 L133.57,303.85 L138.49,307.40 L133.57,310.95Z" fill="#ce6569"/>
<path d="M138.19,307.40 L143.11,303.85 L148.03,307.40 L143.11,310.95Z" fill="#ce6569"/>
<path d="M147.73,307.40 L152.65,303.85 L157.57,307.40 L152.65,310.95Z" fill="#ce6569"/>
<path d="M157.27,307.40 L162.19,303.85 L167.11,307.40 L162.19,310.95Z" fill="#c85156"/>
<path d="M166.81,307.40 L171.73,303.85 L176.65,307.40 L171.73,310.95Z" fill="#f2e4e4"/>
<path d="M176.35,307.40 L181.27,303.85 L186.19,307.40 L181.27,310.95Z" fill="#de9fa2"/>
<path d="M185.89,307.40 L190.81,303.85 L195.73,307.40 L190.81,310.95Z" fill="#efdadb"/>
<path d="M38.02,310.80 L42.94,307.25 L47.86,310.80 L42.94,314.35Z" fill="#e1a9ab"/>
<path d="M47.56,310.80 L52.48,307.25 L57.40,310.80 L52.48,314.35Z" fill="#e4b3b5"/>
<path d="M57.10,310.80 L62.02,307.25 L66.94,310.80 L62.02,314.35Z" fill="#e1a9ab"/>
<path d="M66.64,310.80 L71.56,307.25 L76.48,310.80 L71.56,314.35Z" fill="#e1a9ab"/>
<path d="M76.18,310.80 L81.10,307.25 L86.02,310.80 L81.10,314.35Z" fill="#c5d2e6"/>
<path d="M85.72,310.80 L90.64,307.25 L95.56,310.80 L90.64,314.35Z" fill="#d98c8f"/>
<path d="M95.26,310.80 L100.18,307.25 L105.10,310.80 L100.18,314.35Z" fill="#d68286"/>
<path d="M104.80,310.80 L109.72,307.25 L114.64,310.80 L109.72,314.35Z" fill="#f7f7f7"/>
<path d="M114.34,310.80 L119.26,307.25 L124.18,310.80 L119.26,314.35Z" fill="#d3787c"/>
<path d="M123.88,310.80 L128.80,307.25 L133.72,310.80 L128.80,314.35Z" fill="#d06e73"/>
<path d="M133.42,310.80 L138.34,307.25 L143.26,310.80 L138.34,314.35Z" fill="#d06e73"/>
<path d="M142.96,310.80 L147.88,307.25 L152.80,310.80 L147.88,314.35Z" fill="#ce6569"/>
<path d="M152.50,310.80 L157.42,307.25 L162.34,310.80 L157.42,314.35Z" fill="#ce6569"/>
<path d="M162.04,310.80 L166.96,307.25 L171.88,310.80 L166.96,314.35Z" fill="#e9c6c8"/>
<path d="M171.58,310.80 L176.50,307.25 L181.42,310.80 L176.50,314.35Z" fill="#e6bcbe"/>
<path d="M181.12,310.80 L186.04,307.25 L190.96,310.80 L186.04,314.35Z" fill="#e6bcbe"/>
<path d="M42.79,314.20 L47.71,310.65 L52.63,314.20 L47.71,317.75Z" fill="#e6bcbe"/>
<path d="M52.33,314.20 L57.25,310.65 L62.17,314.20 L57.25,317.75Z" fill="#e9c6c8"/>
<path d="M61.87,314.20 L66.79,310.65 L71.71,314.20 L66.79,317.75Z" fill="#e6bcbe"/>
<path d="M71.41,314.20 L76.33,310.65 L81.25,314.20 L76.33,317.75Z" fill="#a7bbdb"/>
<path d="M80.95,314.20 L85.87,310.65 L90.79,314.20 L85.87,317.75Z" fill="#ecd0d1"/>
<path d="M90.49,314.20 L95.41,310.65 L100.33,314.20 L95.41,317.75Z" fill="#e9c6c8"/>
<path d="M100.03,314.20 L104.95,310.65 L109.87,314.20 L104.95,317.75Z" fill="#de9fa2"/>
<path d="M109.57,314.20 L114.49,310.65 L119.41,314.20 L114.49,317.75Z" fill="#f7f7f7"/>
<path d="M119.11,314.20 L124.03,310.65 L128.95,314.20 L124.03,317.75Z" fill="#d68286"/>
<path d="M128.65,314.20 L133.57,310.65 L138.49,314.20 L133.57,317.75Z" fill="#d3787c"/>
<path d="M138.19,314.20 L143.11,310.65 L148.03,314.20 L143.11,317.75Z" fill="#d3787c"/>
<path d="M147.73,314.20 L152.65,310.65 L157.57,314.20 L152.65,317.75Z" fill="#d3787c"/>
<path d="M157.27,314.20 L162.19,310.65 L167.11,314.20 L162.19,317.75Z" fill="#e3e8f0"/>
<path d="M166.81,314.20 L171.73,310.65 L176.65,314.20 L171.73,317.75Z" fill="#e4b3b5"/>
<path d="M176.35,314.20 L181.27,310.65 L186.19,314.20 L181.27,317.75Z" fill="#f2e4e4"/>
<path d="M47.56,317.60 L52.48,314.05 L57.40,317.60 L52.48,321.15Z" fill="#efdadb"/>
<path d="M57.10,317.60 L62.02,314.05 L66.94,317.60 L62.02,321.15Z" fill="#efdadb"/>
<path d="M66.64,317.60 L71.56,314.05 L76.48,317.60 L71.56,321.15Z" fill="#9eb4d8"/>
<path d="M76.18,317.60 L81.10,314.05 L86.02,317.60 L81.10,321.15Z" fill="#ecd0d1"/>
<path d="M85.72,317.60 L90.64,314.05 L95.56,317.60 L90.64,321.15Z" fill="#f4edee"/>
<path d="M95.26,317.60 L100.18,314.05 L105.10,317.60 L100.18,321.15Z" fill="#e6bcbe"/>
<path d="M104.80,317.60 L109.72,314.05 L114.64,317.60 L109.72,321.15Z" fill="#f2e4e4"/>
<path d="M114.34,317.60 L119.26,314.05 L124.18,317.60 L119.26,321.15Z" fill="#f7f7f7"/>
<path d="M123.88,317.60 L128.80,314.05 L133.72,317.60 L128.80,321.15Z" fill="#dc9698"/>
<path d="M133.42,317.60 L138.34,314.05 L143.26,317.60 L138.34,321.15Z" fill="#d98c8f"/>
<path d="M142.96,317.60 L147.88,314.05 L152.80,317.60 L147.88,321.15Z" fill="#d98c8f"/>
<path d="M152.50,317.60 L157.42,314.05 L162.34,317.60 L157.42,321.15Z" fill="#d9e0ec"/>
<path d="M162.04,317.60 L166.96,314.05 L171.88,317.60 L166.96,321.15Z" fill="#e9c6c8"/>
<path d="M171.58,317.60 L176.50,314.05 L181.42,317.60 L176.50,321.15Z" fill="#ecd0d1"/>
<path d="M52.33,321.00 L57.25,317.45 L62.17,321.00 L57.25,324.55Z" fill="#f4edee"/>
<path d="M61.87,321.00 L66.79,317.45 L71.71,321.00 L66.79,324.55Z" fill="#a7bbdb"/>
<path d="M71.41,321.00 L76.33,317.45 L81.25,321.00 L76.33,324.55Z" fill="#efdadb"/>
<path d="M80.95,321.00 L85.87,317.45 L90.79,321.00 L85.87,324.55Z" fill="#f7f7f7"/>
<path d="M90.49,321.00 L95.41,317.45 L100.33,321.00 L95.41,324.55Z" fill="#f7f7f7"/>
<path d="M100.03,321.00 L104.95,317.45 L109.87,321.00 L104.95,324.55Z" fill="#f7f7f7"/>
<path d="M109.57,321.00 L114.49,317.45 L119.41,321.00 L114.49,324.55Z" fill="#edf0f4"/>
<path d="M119.11,321.00 L124.03,317.45 L128.95,321.00 L124.03,324.55Z" fill="#c5d2e6"/>
<path d="M128.65,321.00 L133.57,317.45 L138.49,321.00 L133.57,324.55Z" fill="#e4b3b5"/>
<path d="M138.19,321.00 L143.11,317.45 L148.03,321.00 L143.11,324.55Z" fill="#e1a9ab"/>
<path d="M147.73,321.00 L152.65,317.45 L157.57,321.00 L152.65,324.55Z" fill="#cfd9e9"/>
<path d="M157.27,321.00 L162.19,317.45 L167.11,321.00 L162.19,324.55Z" fill="#efdadb"/>
<path d="M166.81,321.00 L171.73,317.45 L176.65,321.00 L171.73,324.55Z" fill="#ecd0d1"/>
<path d="M57.10,324.40 L62.02,320.85 L66.94,324.40 L62.02,327.95Z" fill="#9eb4d8"/>
<path d="M66.64,324.40 L71.56,320.85 L76.48,324.40 L71.56,327.95Z" fill="#edf0f4"/>
<path d="M76.18,324.40 L81.10,320.85 L86.02,324.40 L81.10,327.95Z" fill="#f7f7f7"/>
<path d="M85.72,324.40 L90.64,320.85 L95.56,324.40 L90.64,327.95Z" fill="#f7f7f7"/>
<path d="M95.26,324.40 L100.18,320.85 L105.10,324.40 L100.18,327.95Z" fill="#edf0f4"/>
<path d="M104.80,324.40 L109.72,320.85 L114.64,324.40 L109.72,327.95Z" fill="#f7f7f7"/>
<path d="M114.34,324.40 L119.26,320.85 L124.18,324.40 L119.26,327.95Z" fill="#d9e0ec"/>
<path d="M123.88,324.40 L128.80,320.85 L133.72,324.40 L128.80,327.95Z" fill="#c5d2e6"/>
<path d="M133.42,324.40 L138.34,320.85 L143.26,324.40 L138.34,327.95Z" fill="#e9c6c8"/>
<path d="M142.96,324.40 L147.88,320.85 L152.80,324.40 L147.88,327.95Z" fill="#c5d2e6"/>
<path d="M152.50,324.40 L157.42,320.85 L162.34,324.40 L157.42,327.95Z" fill="#f7f7f7"/>
<path d="M162.04,324.40 L166.96,320.85 L171.88,324.40 L166.96,327.95Z" fill="#f4edee"/>
<path d="M61.87,327.80 L66.79,324.25 L71.71,327.80 L66.79,331.35Z" fill="#e3e8f0"/>
<path d="M71.41,327.80 L76.33,324.25 L81.25,327.80 L76.33,331.35Z" fill="#e3e8f0"/>
<path d="M80.95,327.80 L85.87,324.25 L90.79,327.80 L85.87,331.35Z" fill="#edf0f4"/>
<path d="M90.49,327.80 L95.41,324.25 L100.33,327.80 L95.41,331.35Z" fill="#f7f7f7"/>
<path d="M100.03,327.80 L104.95,324.25 L109.87,327.80 L104.95,331.35Z" fill="#e3e8f0"/>
<path d="M109.57,327.80 L114.49,324.25 L119.41,327.80 L114.49,331.35Z" fill="#f7f7f7"/>
<path d="M119.11,327.80 L124.03,324.25 L128.95,327.80 L124.03,331.35Z" fill="#d9e0ec"/>
<path d="M128.65,327.80 L133.57,324.25 L138.49,327.80 L133.57,331.35Z" fill="#c5d2e6"/>
<path d="M138.19,327.80 L143.11,324.25 L148.03,327.80 L143.11,331.35Z" fill="#d9e0ec"/>
<path d="M147.73,327.80 L152.65,324.25 L157.57,327.80 L152.65,331.35Z" fill="#f7f7f7"/>
<path d="M157.27,327.80 L162.19,324.25 L167.11,327.80 L162.19,331.35Z" fill="#e3e8f0"/>
<path d="M66.64,331.20 L71.56,327.65 L76.48,331.20 L71.56,334.75Z" fill="#c5d2e6"/>
<path d="M76.18,331.20 L81.10,327.65 L86.02,331.20 L81.10,334.75Z" fill="#cfd9e9"/>
<path d="M85.72,331.20 L90.64,327.65 L95.56,331.20 L90.64,334.75Z" fill="#d9e0ec"/>
<path d="M95.26,331.20 L100.18,327.65 L105.10,331.20 L100.18,334.75Z" fill="#d9e0ec"/>
<path d="M104.80,331.20 L109.72,327.65 L114.64,331.20 L109.72,334.75Z" fill="#cfd9e9"/>
<path d="M114.34,331.20 L119.26,327.65 L124.18,331.20 L119.26,334.75Z" fill="#d9e0ec"/>
<path d="M123.88,331.20 L128.80,327.65 L133.72,331.20 L128.80,334.75Z" fill="#c5d2e6"/>
<path d="M133.42,331.20 L138.34,327.65 L143.26,331.20 L138.34,334.75Z" fill="#7696ca"/>
<path d="M142.96,331.20 L147.88,327.65 L152.80,331.20 L147.88,334.75Z" fill="#c5d2e6"/>
<path d="M152.50,331.20 L157.42,327.65 L162.34,331.20 L157.42,334.75Z" fill="#cfd9e9"/>
<path d="M71.41,334.60 L76.33,331.05 L81.25,334.60 L76.33,338.15Z" fill="#bbcae2"/>
<path d="M80.95,334.60 L85.87,331.05 L90.79,334.60 L85.87,338.15Z" fill="#c5d2e6"/>
<path d="M90.49,334.60 L95.41,331.05 L100.33,334.60 L95.41,338.15Z" fill="#cfd9e9"/>
<path d="M100.03,334.60 L104.95,331.05 L109.87,334.60 L104.95,338.15Z" fill="#bbcae2"/>
<path d="M109.57,334.60 L114.49,331.05 L119.41,334.60 L114.49,338.15Z" fill="#c5d2e6"/>
<path d="M119.11,334.60 L124.03,331.05 L128.95,334.60 L124.03,338.15Z" fill="#c5d2e6"/>
<path d="M128.65,334.60 L133.57,331.05 L138.49,334.60 L133.57,338.15Z" fill="#b1c2de"/>
<path d="M138.19,334.60 L143.11,331.05 L148.03,334.60 L143.11,338.15Z" fill="#94acd4"/>
<path d="M147.73,334.60 L152.65,331.05 L157.57,334.60 L152.65,338.15Z" fill="#94acd4"/>
<path d="M76.18,338.00 L81.10,334.45 L86.02,338.00 L81.10,341.55Z" fill="#b1c2de"/>
<path d="M85.72,338.00 L90.64,334.45 L95.56,338.00 L90.64,341.55Z" fill="#bbcae2"/>
<path d="M95.26,338.00 L100.18,334.45 L105.10,338.00 L100.18,341.55Z" fill="#c5d2e6"/>
<path d="M104.80,338.00 L109.72,334.45 L114.64,338.00 L109.72,341.55Z" fill="#b1c2de"/>
<path d="M114.34,338.00 L119.26,334.45 L124.18,338.00 L119.26,341.55Z" fill="#a7bbdb"/>
<path d="M123.88,338.00 L128.80,334.45 L133.72,338.00 L128.80,341.55Z" fill="#b1c2de"/>
<path d="M133.42,338.00 L138.34,334.45 L143.26,338.00 L138.34,341.55Z" fill="#a7bbdb"/>
<path d="M142.96,338.00 L147.88,334.45 L152.80,338.00 L147.88,341.55Z" fill="#94acd4"/>
<path d="M80.95,341.40 L85.87,337.85 L90.79,341.40 L85.87,344.95Z" fill="#a7bbdb"/>
<path d="M90.49,341.40 L95.41,337.85 L100.33,341.40 L95.41,344.95Z" fill="#b1c2de"/>
<path d="M100.03,341.40 L104.95,337.85 L109.87,341.40 L104.95,344.95Z" fill="#a7bbdb"/>
<path d="M109.57,341.40 L114.49,337.85 L119.41,341.40 L114.49,344.95Z" fill="#b1c2de"/>
<path d="M119.11,341.40 L124.03,337.85 L128.95,341.40 L124.03,344.95Z" fill="#9eb4d8"/>
<path d="M128.65,341.40 L133.57,337.85 L138.49,341.40 L133.57,344.95Z" fill="#a7bbdb"/>
<path d="M138.19,341.40 L143.11,337.85 L148.03,341.40 L143.11,344.95Z" fill="#a7bbdb"/>
<path d="M85.72,344.80 L90.64,341.25 L95.56,344.80 L90.64,348.35Z" fill="#9eb4d8"/>
<path d="M95.26,344.80 L100.18,341.25 L105.10,344.80 L100.18,348.35Z" fill="#a7bbdb"/>
<path d="M104.80,344.80 L109.72,341.25 L114.64,344.80 L109.72,348.35Z" fill="#9eb4d8"/>
<path d="M114.34,344.80 L119.26,341.25 L124.18,344.80 L119.26,348.35Z" fill="#8aa4d0"/>
<path d="M123.88,344.80 L128.80,341.25 L133.72,344.80 L128.80,348.35Z" fill="#9eb4d8"/>
<path d="M133.42,344.80 L138.34,341.25 L143.26,344.80 L138.34,348.35Z" fill="#9eb4d8"/>
<path d="M90.49,348.20 L95.41,344.65 L100.33,348.20 L95.41,351.75Z" fill="#94acd4"/>
<path d="M100.03,348.20 L104.95,344.65 L109.87,348.20 L104.95,351.75Z" fill="#9eb4d8"/>
<path d="M109.57,348.20 L114.49,344.65 L119.41,348.20 L114.49,351.75Z" fill="#94acd4"/>
<path d="M119.11,348.20 L124.03,344.65 L128.95,348.20 L124.03,351.75Z" fill="#809dcd"/>
<path d="M128.65,348.20 L133.57,344.65 L138.49,348.20 L133.57,351.75Z" fill="#94acd4"/>
<path d="M95.26,351.60 L100.18,348.05 L105.10,351.60 L100.18,355.15Z" fill="#94acd4"/>
<path d="M104.80,351.60 L109.72,348.05 L114.64,351.60 L109.72,355.15Z" fill="#809dcd"/>
<path d="M114.34,351.60 L119.26,348.05 L124.18,351.60 L119.26,355.15Z" fill="#809dcd"/>
<path d="M123.88,351.60 L128.80,348.05 L133.72,351.60 L128.80,355.15Z" fill="#8aa4d0"/>
<path d="M100.03,355.00 L104.95,351.45 L109.87,355.00 L104.95,358.55Z" fill="#7696ca"/>
<path d="M109.57,355.00 L114.49,351.45 L119.41,355.00 L114.49,358.55Z" fill="#8aa4d0"/>
<path d="M119.11,355.00 L124.03,351.45 L128.95,355.00 L124.03,358.55Z" fill="#94acd4"/>
<path d="M104.80,358.40 L109.72,354.85 L114.64,358.40 L109.72,361.95Z" fill="#8aa4d0"/>
<path d="M114.34,358.40 L119.26,354.85 L124.18,358.40 L119.26,361.95Z" fill="#8aa4d0"/>
<path d="M109.57,361.80 L114.49,358.25 L119.41,361.80 L114.49,365.35Z" fill="#8aa4d0"/>
<path d="M218.68,304.50 L223.50,300.93 L228.32,304.50 L223.50,308.07Z" fill="#f0aa74"/>
<path d="M228.02,304.50 L232.84,300.93 L237.66,304.50 L232.84,308.07Z" fill="#ef9e60"/>
<path d="M237.36,304.50 L242.18,300.93 L247.00,304.50 L242.18,308.07Z" fill="#f0aa74"/>
<path d="M246.70,304.50 L251.52,300.93 L256.34,304.50 L251.52,308.07Z" fill="#f0aa74"/>
<path d="M256.04,304.50 L260.86,300.93 L265.68,304.50 L260.86,308.07Z" fill="#f0aa74"/>
<path d="M265.38,304.50 L270.20,300.93 L275.02,304.50 L270.20,308.07Z" fill="#ee924b"/>
<path d="M274.72,304.50 L279.54,300.93 L284.36,304.50 L279.54,308.07Z" fill="#d9e0ec"/>
<path d="M284.06,304.50 L288.88,300.93 L293.70,304.50 L288.88,308.07Z" fill="#d9e0ec"/>
<path d="M293.40,304.50 L298.22,300.93 L303.04,304.50 L298.22,308.07Z" fill="#ee924b"/>
<path d="M302.74,304.50 L307.56,300.93 L312.38,304.50 L307.56,308.07Z" fill="#ef9e60"/>
<path d="M312.08,304.50 L316.90,300.93 L321.72,304.50 L316.90,308.07Z" fill="#ee9855"/>
<path d="M321.42,304.50 L326.24,300.93 L331.06,304.50 L326.24,308.07Z" fill="#ef9e60"/>
<path d="M330.76,304.50 L335.58,300.93 L340.40,304.50 L335.58,308.07Z" fill="#ef9e60"/>
<path d="M340.10,304.50 L344.92,300.93 L349.74,304.50 L344.92,308.07Z" fill="#ee9855"/>
<path d="M349.44,304.50 L354.26,300.93 L359.08,304.50 L354.26,308.07Z" fill="#efa46a"/>
<path d="M358.78,304.50 L363.60,300.93 L368.42,304.50 L363.60,308.07Z" fill="#f4d3ba"/>
<path d="M368.12,304.50 L372.94,300.93 L377.76,304.50 L372.94,308.07Z" fill="#f4d3ba"/>
<path d="M377.46,304.50 L382.28,300.93 L387.10,304.50 L382.28,308.07Z" fill="#f0aa74"/>
<path d="M223.35,307.92 L228.17,304.35 L232.99,307.92 L228.17,311.49Z" fill="#f0b07e"/>
<path d="M232.69,307.92 L237.51,304.35 L242.33,307.92 L237.51,311.49Z" fill="#f1b688"/>
<path d="M242.03,307.92 L246.85,304.35 L251.67,307.92 L246.85,311.49Z" fill="#f1b688"/>
<path d="M251.37,307.92 L256.19,304.35 L261.01,307.92 L256.19,311.49Z" fill="#f1b688"/>
<path d="M260.71,307.92 L265.53,304.35 L270.35,307.92 L265.53,311.49Z" fill="#f0b07e"/>
<path d="M270.05,307.92 L274.87,304.35 L279.69,307.92 L274.87,311.49Z" fill="#cfd9e9"/>
<path d="M279.39,307.92 L284.21,304.35 L289.03,307.92 L284.21,311.49Z" fill="#f0b07e"/>
<path d="M288.73,307.92 L293.55,304.35 L298.37,307.92 L293.55,311.49Z" fill="#d9e0ec"/>
<path d="M298.07,307.92 L302.89,304.35 L307.71,307.92 L302.89,311.49Z" fill="#ef9e60"/>
<path d="M307.41,307.92 L312.23,304.35 L317.05,307.92 L312.23,311.49Z" fill="#ef9e60"/>
<path d="M316.75,307.92 L321.57,304.35 L326.39,307.92 L321.57,311.49Z" fill="#ef9e60"/>
<path d="M326.09,307.92 L330.91,304.35 L335.73,307.92 L330.91,311.49Z" fill="#ef9e60"/>
<path d="M335.43,307.92 L340.25,304.35 L345.07,307.92 L340.25,311.49Z" fill="#ef9e60"/>
<path d="M344.77,307.92 L349.59,304.35 L354.41,307.92 L349.59,311.49Z" fill="#ee924b"/>
<path d="M354.11,307.92 L358.93,304.35 L363.75,307.92 L358.93,311.49Z" fill="#f6ebe3"/>
<path d="M363.45,307.92 L368.27,304.35 L373.09,307.92 L368.27,311.49Z" fill="#f2c19c"/>
<path d="M372.79,307.92 L377.61,304.35 L382.43,307.92 L377.61,311.49Z" fill="#f5e5d9"/>
<path d="M228.02,311.34 L232.84,307.77 L237.66,311.34 L232.84,314.91Z" fill="#f3c7a6"/>
<path d="M237.36,311.34 L242.18,307.77 L247.00,311.34 L242.18,314.91Z" fill="#f3cdb0"/>
<path d="M246.70,311.34 L251.52,307.77 L256.34,311.34 L251.52,314.91Z" fill="#f3c7a6"/>
<path d="M256.04,311.34 L260.86,307.77 L265.68,311.34 L260.86,314.91Z" fill="#f3c7a6"/>
<path d="M265.38,311.34 L270.20,307.77 L275.02,311.34 L270.20,314.91Z" fill="#c5d2e6"/>
<path d="M274.72,311.34 L279.54,307.77 L284.36,311.34 L279.54,314.91Z" fill="#f1b688"/>
<path d="M284.06,311.34 L288.88,307.77 L293.70,311.34 L288.88,314.91Z" fill="#f0b07e"/>
<path d="M293.40,311.34 L298.22,307.77 L303.04,311.34 L298.22,314.91Z" fill="#f7f7f7"/>
<path d="M302.74,311.34 L307.56,307.77 L312.38,311.34 L307.56,314.91Z" fill="#f0aa74"/>
<path d="M312.08,311.34 L316.90,307.77 L321.72,311.34 L316.90,314.91Z" fill="#efa46a"/>
<path d="M321.42,311.34 L326.24,307.77 L331.06,311.34 L326.24,314.91Z" fill="#efa46a"/>
<path d="M330.76,311.34 L335.58,307.77 L340.40,311.34 L335.58,314.91Z" fill="#ef9e60"/>
<path d="M340.10,311.34 L344.92,307.77 L349.74,311.34 L344.92,314.91Z" fill="#ef9e60"/>
<path d="M349.44,311.34 L354.26,307.77 L359.08,311.34 L354.26,314.91Z" fill="#f4d9c4"/>
<path d="M358.78,311.34 L363.60,307.77 L368.42,311.34 L363.60,314.91Z" fill="#f4d3ba"/>
<path d="M368.12,311.34 L372.94,307.77 L377.76,311.34 L372.94,314.91Z" fill="#f4d3ba"/>
<path d="M232.69,314.76 L237.51,311.19 L242.33,314.76 L237.51,318.33Z" fill="#f4d3ba"/>
<path d="M242.03,314.76 L246.85,311.19 L251.67,314.76 L246.85,318.33Z" fill="#f4d9c4"/>
<path d="M251.37,314.76 L256.19,311.19 L261.01,314.76 L256.19,318.33Z" fill="#f4d3ba"/>
<path d="M260.71,314.76 L265.53,311.19 L270.35,314.76 L265.53,318.33Z" fill="#a7bbdb"/>
<path d="M270.05,314.76 L274.87,311.19 L279.69,314.76 L274.87,318.33Z" fill="#f5dfcf"/>
<path d="M279.39,314.76 L284.21,311.19 L289.03,314.76 L284.21,318.33Z" fill="#f4d9c4"/>
<path d="M288.73,314.76 L293.55,311.19 L298.37,314.76 L293.55,318.33Z" fill="#f2c19c"/>
<path d="M298.07,314.76 L302.89,311.19 L307.71,314.76 L302.89,318.33Z" fill="#f7f7f7"/>
<path d="M307.41,314.76 L312.23,311.19 L317.05,314.76 L312.23,318.33Z" fill="#f0b07e"/>
<path d="M316.75,314.76 L321.57,311.19 L326.39,314.76 L321.57,318.33Z" fill="#f0aa74"/>
<path d="M326.09,314.76 L330.91,311.19 L335.73,314.76 L330.91,318.33Z" fill="#f0aa74"/>
<path d="M335.43,314.76 L340.25,311.19 L345.07,314.76 L340.25,318.33Z" fill="#f0aa74"/>
<path d="M344.77,314.76 L349.59,311.19 L354.41,314.76 L349.59,318.33Z" fill="#e3e8f0"/>
<path d="M354.11,314.76 L358.93,311.19 L363.75,314.76 L358.93,318.33Z" fill="#f3cdb0"/>
<path d="M363.45,314.76 L368.27,311.19 L373.09,314.76 L368.27,318.33Z" fill="#f6ebe3"/>
<path d="M237.36,318.18 L242.18,314.61 L247.00,318.18 L242.18,321.75Z" fill="#f5e5d9"/>
<path d="M246.70,318.18 L251.52,314.61 L256.34,318.18 L251.52,321.75Z" fill="#f5e5d9"/>
<path d="M256.04,318.18 L260.86,314.61 L265.68,318.18 L260.86,321.75Z" fill="#9eb4d8"/>
<path d="M265.38,318.18 L270.20,314.61 L275.02,318.18 L270.20,321.75Z" fill="#f5dfcf"/>
<path d="M274.72,318.18 L279.54,314.61 L284.36,318.18 L279.54,321.75Z" fill="#f6f1ed"/>
<path d="M284.06,318.18 L288.88,314.61 L293.70,318.18 L288.88,321.75Z" fill="#f4d3ba"/>
<path d="M293.40,318.18 L298.22,314.61 L303.04,318.18 L298.22,321.75Z" fill="#f6ebe3"/>
<path d="M302.74,318.18 L307.56,314.61 L312.38,318.18 L307.56,321.75Z" fill="#f7f7f7"/>
<path d="M312.08,318.18 L316.90,314.61 L321.72,318.18 L316.90,321.75Z" fill="#f2bc92"/>
<path d="M321.42,318.18 L326.24,314.61 L331.06,318.18 L326.24,321.75Z" fill="#f1b688"/>
<path d="M330.76,318.18 L335.58,314.61 L340.40,318.18 L335.58,321.75Z" fill="#f1b688"/>
<path d="M340.10,318.18 L344.92,314.61 L349.74,318.18 L344.92,321.75Z" fill="#d9e0ec"/>
<path d="M349.44,318.18 L354.26,314.61 L359.08,318.18 L354.26,321.75Z" fill="#f4d9c4"/>
<path d="M358.78,318.18 L363.60,314.61 L368.42,318.18 L363.60,321.75Z" fill="#f5dfcf"/>
<path d="M242.03,321.60 L246.85,318.03 L251.67,321.60 L246.85,325.17Z" fill="#f6f1ed"/>
<path d="M251.37,321.60 L256.19,318.03 L261.01,321.60 L256.19,325.17Z" fill="#a7bbdb"/>
<path d="M260.71,321.60 L265.53,318.03 L270.35,321.60 L265.53,325.17Z" fill="#f5e5d9"/>
<path d="M270.05,321.60 L274.87,318.03 L279.69,321.60 L274.87,325.17Z" fill="#f7f7f7"/>
<path d="M279.39,321.60 L284.21,318.03 L289.03,321.60 L284.21,325.17Z" fill="#f7f7f7"/>
<path d="M288.73,321.60 L293.55,318.03 L298.37,321.60 L293.55,325.17Z" fill="#f7f7f7"/>
<path d="M298.07,321.60 L302.89,318.03 L307.71,321.60 L302.89,325.17Z" fill="#edf0f4"/>
<path d="M307.41,321.60 L312.23,318.03 L317.05,321.60 L312.23,325.17Z" fill="#c5d2e6"/>
<path d="M316.75,321.60 L321.57,318.03 L326.39,321.60 L321.57,325.17Z" fill="#f3cdb0"/>
<path d="M326.09,321.60 L330.91,318.03 L335.73,321.60 L330.91,325.17Z" fill="#f3c7a6"/>
<path d="M335.43,321.60 L340.25,318.03 L345.07,321.60 L340.25,325.17Z" fill="#cfd9e9"/>
<path d="M344.77,321.60 L349.59,318.03 L354.41,321.60 L349.59,325.17Z" fill="#f5e5d9"/>
<path d="M354.11,321.60 L358.93,318.03 L363.75,321.60 L358.93,325.17Z" fill="#f5dfcf"/>
<path d="M246.70,325.02 L251.52,321.45 L256.34,325.02 L251.52,328.59Z" fill="#9eb4d8"/>
<path d="M256.04,325.02 L260.86,321.45 L265.68,325.02 L260.86,328.59Z" fill="#edf0f4"/>
<path d="M265.38,325.02 L270.20,321.45 L275.02,325.02 L270.20,328.59Z" fill="#f7f7f7"/>
<path d="M274.72,325.02 L279.54,321.45 L284.36,325.02 L279.54,328.59Z" fill="#f7f7f7"/>
<path d="M284.06,325.02 L288.88,321.45 L293.70,325.02 L288.88,328.59Z" fill="#edf0f4"/>
<path d="M293.40,325.02 L298.22,321.45 L303.04,325.02 L298.22,328.59Z" fill="#f7f7f7"/>
<path d="M302.74,325.02 L307.56,321.45 L312.38,325.02 L307.56,328.59Z" fill="#d9e0ec"/>
<path d="M312.08,325.02 L316.90,321.45 L321.72,325.02 L316.90,328.59Z" fill="#c5d2e6"/>
<path d="M321.42,325.02 L326.24,321.45 L331.06,325.02 L326.24,328.59Z" fill="#f4d9c4"/>
<path d="M330.76,325.02 L335.58,321.45 L340.40,325.02 L335.58,328.59Z" fill="#c5d2e6"/>
<path d="M340.10,325.02 L344.92,321.45 L349.74,325.02 L344.92,328.59Z" fill="#f7f7f7"/>
<path d="M349.44,325.02 L354.26,321.45 L359.08,325.02 L354.26,328.59Z" fill="#f6f1ed"/>
<path d="M251.37,328.44 L256.19,324.87 L261.01,328.44 L256.19,332.01Z" fill="#e3e8f0"/>
<path d="M260.71,328.44 L265.53,324.87 L270.35,328.44 L265.53,332.01Z" fill="#e3e8f0"/>
<path d="M270.05,328.44 L274.87,324.87 L279.69,328.44 L274.87,332.01Z" fill="#edf0f4"/>
<path d="M279.39,328.44 L284.21,324.87 L289.03,328.44 L284.21,332.01Z" fill="#f7f7f7"/>
<path d="M288.73,328.44 L293.55,324.87 L298.37,328.44 L293.55,332.01Z" fill="#e3e8f0"/>
<path d="M298.07,328.44 L302.89,324.87 L307.71,328.44 L302.89,332.01Z" fill="#f7f7f7"/>
<path d="M307.41,328.44 L312.23,324.87 L317.05,328.44 L312.23,332.01Z" fill="#d9e0ec"/>
<path d="M316.75,328.44 L321.57,324.87 L326.39,328.44 L321.57,332.01Z" fill="#c5d2e6"/>
<path d="M326.09,328.44 L330.91,324.87 L335.73,328.44 L330.91,332.01Z" fill="#d9e0ec"/>
<path d="M335.43,328.44 L340.25,324.87 L345.07,328.44 L340.25,332.01Z" fill="#f7f7f7"/>
<path d="M344.77,328.44 L349.59,324.87 L354.41,328.44 L349.59,332.01Z" fill="#e3e8f0"/>
<path d="M256.04,331.86 L260.86,328.29 L265.68,331.86 L260.86,335.43Z" fill="#c5d2e6"/>
<path d="M265.38,331.86 L270.20,328.29 L275.02,331.86 L270.20,335.43Z" fill="#cfd9e9"/>
<path d="M274.72,331.86 L279.54,328.29 L284.36,331.86 L279.54,335.43Z" fill="#d9e0ec"/>
<path d="M284.06,331.86 L288.88,328.29 L293.70,331.86 L288.88,335.43Z" fill="#d9e0ec"/>
<path d="M293.40,331.86 L298.22,328.29 L303.04,331.86 L298.22,335.43Z" fill="#cfd9e9"/>
<path d="M302.74,331.86 L307.56,328.29 L312.38,331.86 L307.56,335.43Z" fill="#d9e0ec"/>
<path d="M312.08,331.86 L316.90,328.29 L321.72,331.86 L316.90,335.43Z" fill="#c5d2e6"/>
<path d="M321.42,331.86 L326.24,328.29 L331.06,331.86 L326.24,335.43Z" fill="#7696ca"/>
<path d="M330.76,331.86 L335.58,328.29 L340.40,331.86 L335.58,335.43Z" fill="#c5d2e6"/>
<path d="M340.10,331.86 L344.92,328.29 L349.74,331.86 L344.92,335.43Z" fill="#cfd9e9"/>
<path d="M260.71,335.28 L265.53,331.71 L270.35,335.28 L265.53,338.85Z" fill="#bbcae2"/>
<path d="M270.05,335.28 L274.87,331.71 L279.69,335.28 L274.87,338.85Z" fill="#c5d2e6"/>
<path d="M279.39,335.28 L284.21,331.71 L289.03,335.28 L284.21,338.85Z" fill="#cfd9e9"/>
<path d="M288.73,335.28 L293.55,331.71 L298.37,335.28 L293.55,338.85Z" fill="#bbcae2"/>
<path d="M298.07,335.28 L302.89,331.71 L307.71,335.28 L302.89,338.85Z" fill="#c5d2e6"/>
<path d="M307.41,335.28 L312.23,331.71 L317.05,335.28 L312.23,338.85Z" fill="#c5d2e6"/>
<path d="M316.75,335.28 L321.57,331.71 L326.39,335.28 L321.57,338.85Z" fill="#b1c2de"/>
<path d="M326.09,335.28 L330.91,331.71 L335.73,335.28 L330.91,338.85Z" fill="#94acd4"/>
<path d="M335.43,335.28 L340.25,331.71 L345.07,335.28 L340.25,338.85Z" fill="#94acd4"/>
<path d="M265.38,338.70 L270.20,335.13 L275.02,338.70 L270.20,342.27Z" fill="#b1c2de"/>
<path d="M274.72,338.70 L279.54,335.13 L284.36,338.70 L279.54,342.27Z" fill="#bbcae2"/>
<path d="M284.06,338.70 L288.88,335.13 L293.70,338.70 L288.88,342.27Z" fill="#c5d2e6"/>
<path d="M293.40,338.70 L298.22,335.13 L303.04,338.70 L298.22,342.27Z" fill="#b1c2de"/>
<path d="M302.74,338.70 L307.56,335.13 L312.38,338.70 L307.56,342.27Z" fill="#a7bbdb"/>
<path d="M312.08,338.70 L316.90,335.13 L321.72,338.70 L316.90,342.27Z" fill="#b1c2de"/>
<path d="M321.42,338.70 L326.24,335.13 L331.06,338.70 L326.24,342.27Z" fill="#a7bbdb"/>
<path d="M330.76,338.70 L335.58,335.13 L340.40,338.70 L335.58,342.27Z" fill="#94acd4"/>
<path d="M270.05,342.12 L274.87,338.55 L279.69,342.12 L274.87,345.69Z" fill="#a7bbdb"/>
<path d="M279.39,342.12 L284.21,338.55 L289.03,342.12 L284.21,345.69Z" fill="#b1c2de"/>
<path d="M288.73,342.12 L293.55,338.55 L298.37,342.12 L293.55,345.69Z" fill="#a7bbdb"/>
<path d="M298.07,342.12 L302.89,338.55 L307.71,342.12 L302.89,345.69Z" fill="#b1c2de"/>
<path d="M307.41,342.12 L312.23,338.55 L317.05,342.12 L312.23,345.69Z" fill="#9eb4d8"/>
<path d="M316.75,342.12 L321.57,338.55 L326.39,342.12 L321.57,345.69Z" fill="#a7bbdb"/>
<path d="M326.09,342.12 L330.91,338.55 L335.73,342.12 L330.91,345.69Z" fill="#a7bbdb"/>
<path d="M274.72,345.54 L279.54,341.97 L284.36,345.54 L279.54,349.11Z" fill="#9eb4d8"/>
<path d="M284.06,345.54 L288.88,341.97 L293.70,345.54 L288.88,349.11Z" fill="#a7bbdb"/>
<path d="M293.40,345.54 L298.22,341.97 L303.04,345.54 L298.22,349.11Z" fill="#9eb4d8"/>
<path d="M302.74,345.54 L307.56,341.97 L312.38,345.54 L307.56,349.11Z" fill="#8aa4d0"/>
<path d="M312.08,345.54 L316.90,341.97 L321.72,345.54 L316.90,349.11Z" fill="#9eb4d8"/>
<path d="M321.42,345.54 L326.24,341.97 L331.06,345.54 L326.24,349.11Z" fill="#9eb4d8"/>
<path d="M279.39,348.96 L284.21,345.39 L289.03,348.96 L284.21,352.53Z" fill="#94acd4"/>
<path d="M288.73,348.96 L293.55,345.39 L298.37,348.96 L293.55,352.53Z" fill="#9eb4d8"/>
<path d="M298.07,348.96 L302.89,345.39 L307.71,348.96 L302.89,352.53Z" fill="#94acd4"/>
<path d="M307.41,348.96 L312.23,345.39 L317.05,348.96 L312.23,352.53Z" fill="#809dcd"/>
<path d="M316.75,348.96 L321.57,345.39 L326.39,348.96 L321.57,352.53Z" fill="#94acd4"/>
<path d="M284.06,352.38 L288.88,348.81 L293.70,352.38 L288.88,355.95Z" fill="#94acd4"/>
<path d="M293.40,352.38 L298.22,348.81 L303.04,352.38 L298.22,355.95Z" fill="#809dcd"/>
<path d="M302.74,352.38 L307.56,348.81 L312.38,352.38 L307.56,355.95Z" fill="#809dcd"/>
<path d="M312.08,352.38 L316.90,348.81 L321.72,352.38 L316.90,355.95Z" fill="#8aa4d0"/>
<path d="M288.73,355.80 L293.55,352.23 L298.37,355.80 L293.55,359.37Z" fill="#7696ca"/>
<path d="M298.07,355.80 L302.89,352.23 L307.71,355.80 L302.89,359.37Z" fill="#8aa4d0"/>
<path d="M307.41,355.80 L312.23,352.23 L317.05,355.80 L312.23,359.37Z" fill="#94acd4"/>
<path d="M293.40,359.22 L298.22,355.65 L303.04,359.22 L298.22,362.79Z" fill="#8aa4d0"/>
<path d="M302.74,359.22 L307.56,355.65 L312.38,359.22 L307.56,362.79Z" fill="#8aa4d0"/>
<path d="M298.07,362.64 L302.89,359.07 L307.71,362.64 L302.89,366.21Z" fill="#8aa4d0"/>
<defs><linearGradient id="g1" x1="0" y1="0" x2="0" y2="1"><stop offset="0" stop-color="rgb(192, 52, 58)"/><stop offset="0.5" stop-color="#f7f7f7"/><stop offset="1" stop-color="#215aa5"/></linearGradient></defs>
<rect x="175" y="335.3" width="7.599999999999994" height="29.69999999999999" fill="url(#g1)"/>
<text x="175.5" y="333.3" font-size="4.2" fill="#333">r2</text>
<text x="190.1" y="336.5" font-size="3.9" fill="#444" text-anchor="middle">1.00</text>
<text x="190.1" y="343.9" font-size="3.9" fill="#444" text-anchor="middle">0.75</text>
<text x="190.1" y="351.3" font-size="3.9" fill="#444" text-anchor="middle">0.50</text>
<text x="190.1" y="358.8" font-size="3.9" fill="#444" text-anchor="middle">0.25</text>
<text x="190.1" y="366.2" font-size="3.9" fill="#444" text-anchor="middle">0.00</text>
<defs><linearGradient id="g2" x1="0" y1="0" x2="0" y2="1"><stop offset="0" stop-color="rgb(236, 128, 45)"/><stop offset="0.5" stop-color="#f7f7f7"/><stop offset="1" stop-color="#215aa5"/></linearGradient></defs>
<rect x="367.2" y="330.8" width="8.699999999999989" height="32.39999999999998" fill="url(#g2)"/>
<text x="367.7" y="328.8" font-size="4.2" fill="#333">r2</text>
<text x="383.4" y="332.0" font-size="3.9" fill="#444" text-anchor="middle">1.00</text>
<text x="383.4" y="340.1" font-size="3.9" fill="#444" text-anchor="middle">0.75</text>
<text x="383.4" y="348.2" font-size="3.9" fill="#444" text-anchor="middle">0.50</text>
<text x="383.4" y="356.3" font-size="3.9" fill="#444" text-anchor="middle">0.25</text>
<text x="383.4" y="364.4" font-size="3.9" fill="#444" text-anchor="middle">0.00</text>
</svg>
</body></html>
